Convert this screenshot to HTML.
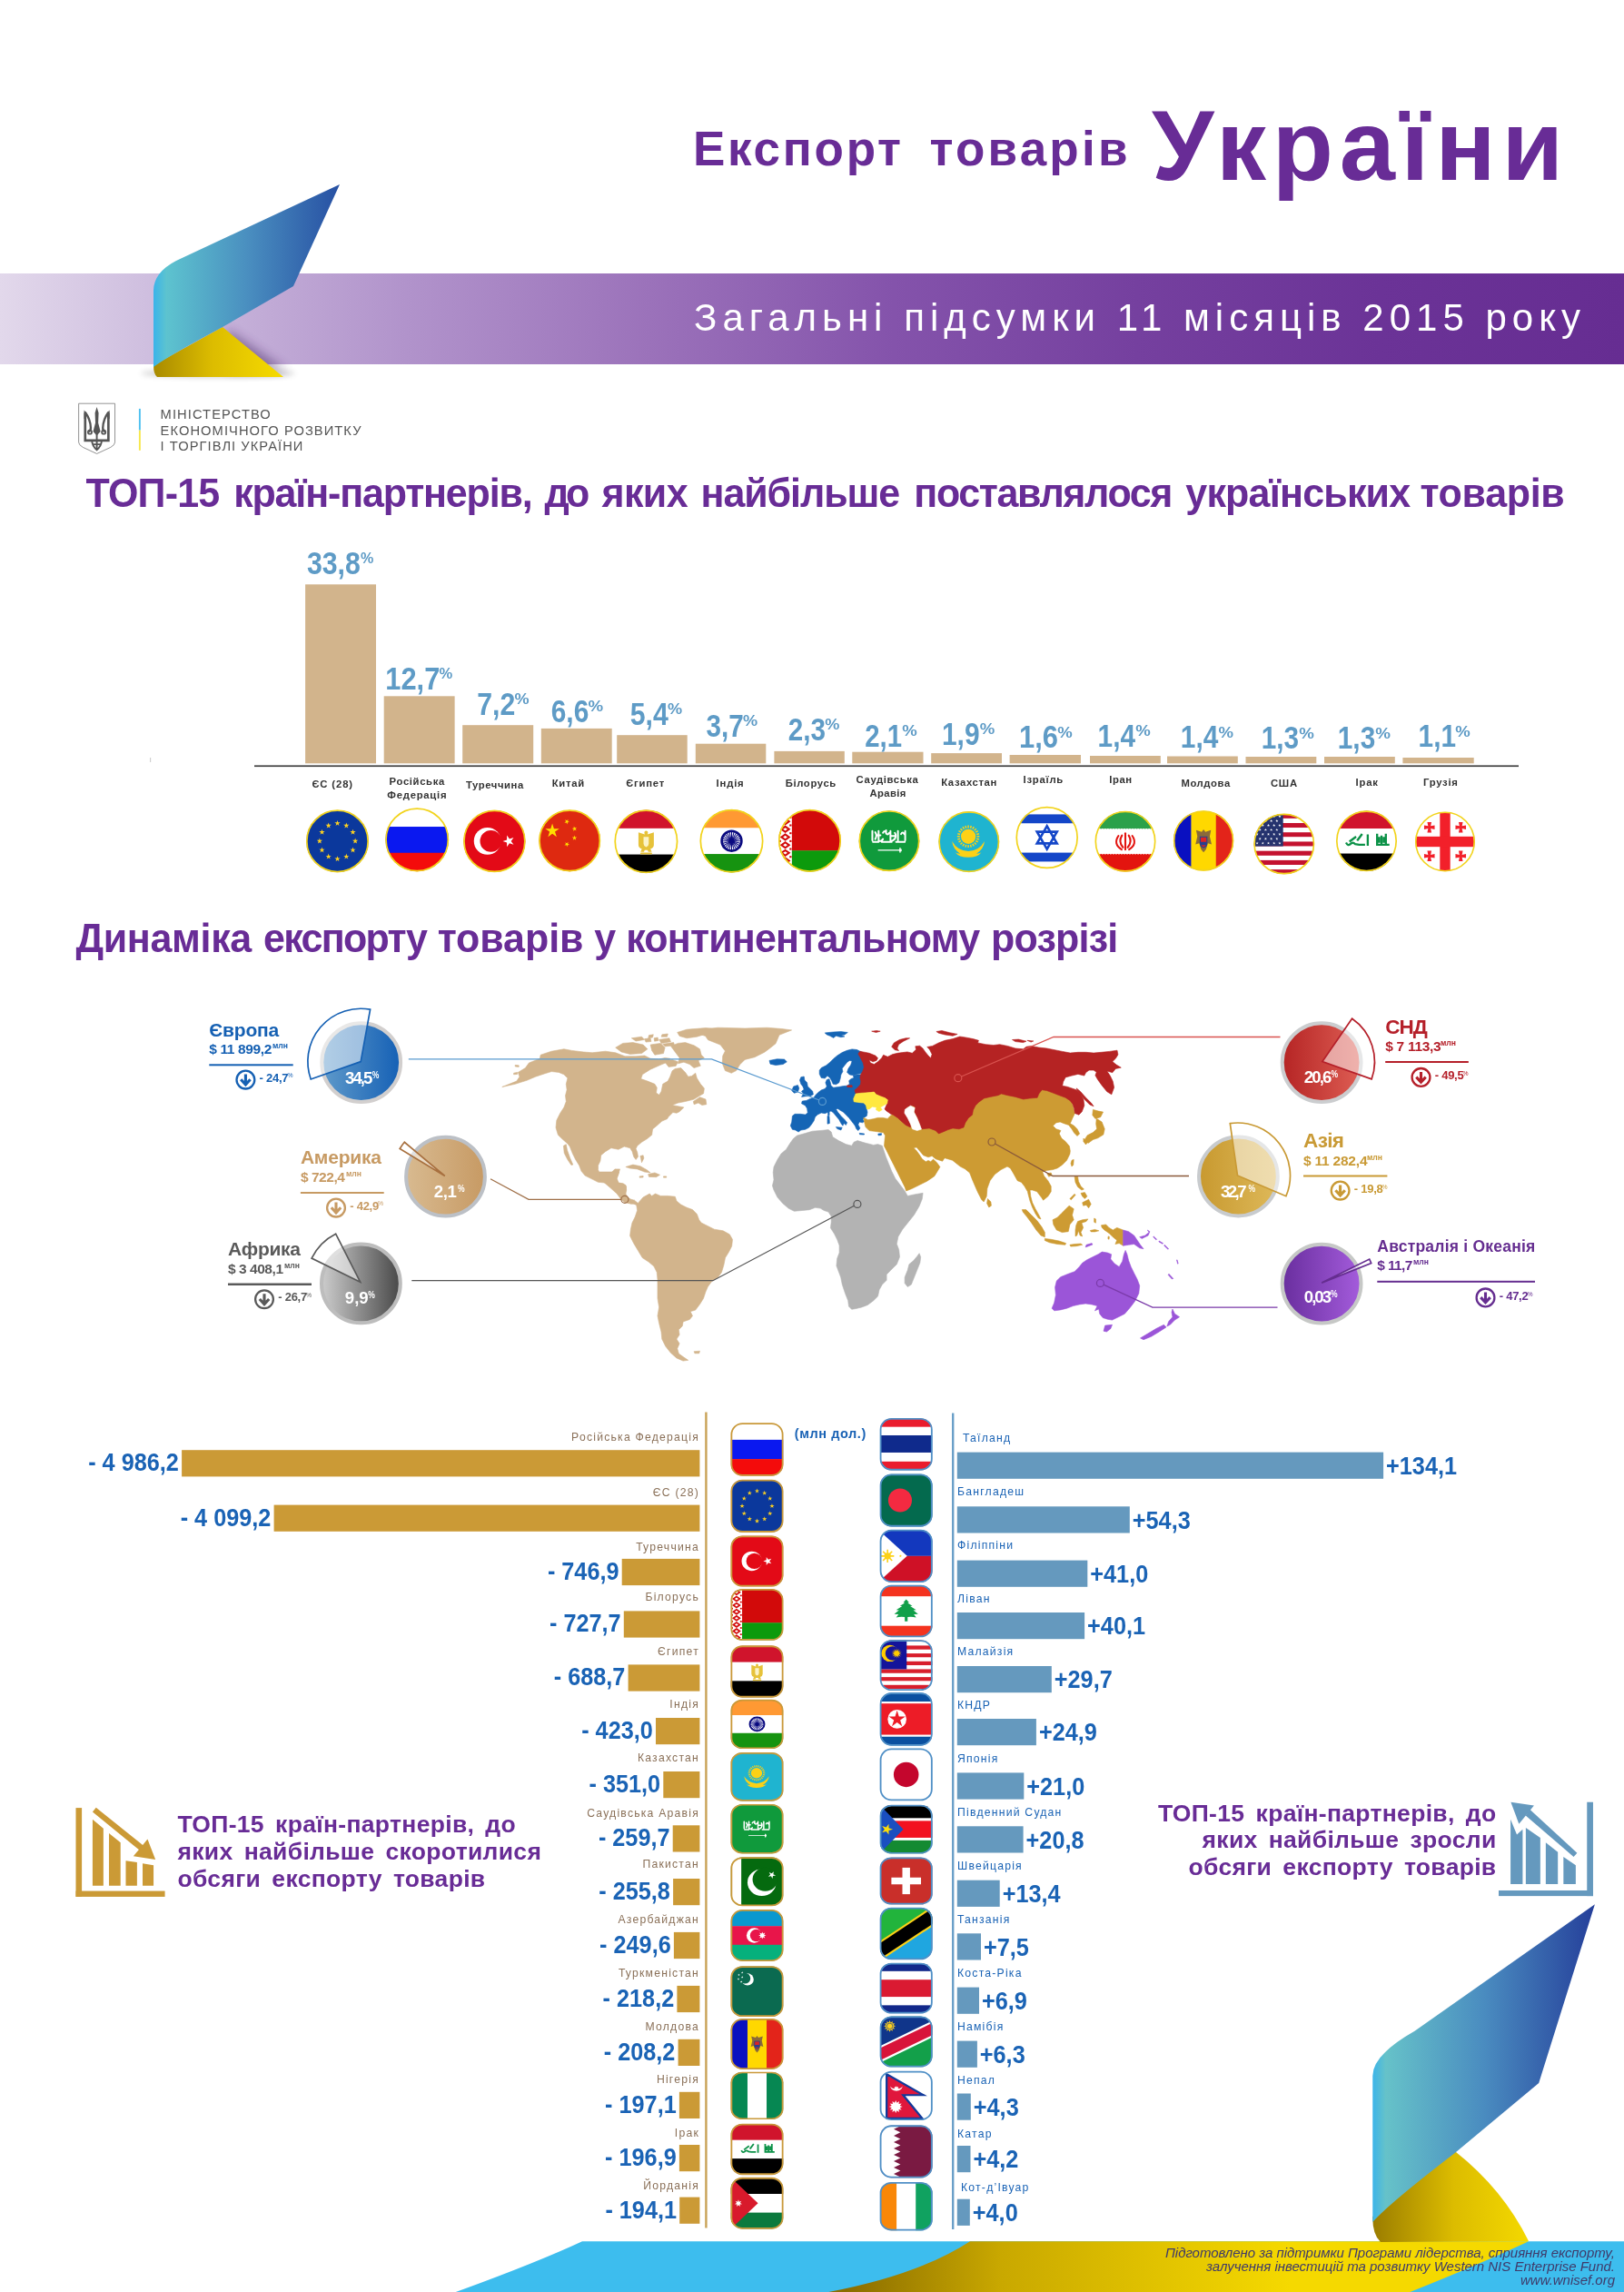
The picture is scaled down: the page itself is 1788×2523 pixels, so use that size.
<!DOCTYPE html>
<html lang="uk"><head><meta charset="utf-8"><title>Експорт товарів України</title>
<style>
html,body{margin:0;padding:0;background:#fff}
#page{position:relative;width:1788px;height:2523px;overflow:hidden;background:#fff}
svg{position:absolute;left:0;top:0;font-family:"Liberation Sans",sans-serif;will-change:transform}
text{white-space:pre}
</style></head><body><div id="page">
<svg width="1788" height="2523" viewBox="0 0 1788 2523">
<defs>
<linearGradient id="gband" x1="0" x2="1" y1="0" y2="0">
<stop offset="0" stop-color="#e2d8eb"/><stop offset="0.1" stop-color="#cdbcde"/><stop offset="0.25" stop-color="#b193cb"/><stop offset="0.4" stop-color="#9b72ba"/><stop offset="0.55" stop-color="#8453ab"/><stop offset="0.7" stop-color="#75409f"/><stop offset="0.85" stop-color="#6b3397"/><stop offset="1" stop-color="#662d92"/></linearGradient>
<linearGradient id="grib" x1="0" x2="1" y1="0" y2="0">
<stop offset="0" stop-color="#3ab4ea"/><stop offset="0.07" stop-color="#5dc3cf"/><stop offset="0.5" stop-color="#4a8fc0"/><stop offset="1" stop-color="#2750a3"/></linearGradient>
<linearGradient id="gyel" x1="0" x2="1" y1="0" y2="0">
<stop offset="0" stop-color="#a88a00"/><stop offset="0.45" stop-color="#dcbc00"/><stop offset="1" stop-color="#f6db00"/></linearGradient>
<radialGradient id="gshadow" cx="0.5" cy="1" r="0.5" gradientTransform="translate(0,0.9) scale(1,0.22) translate(0,-1)"><stop offset="0" stop-color="#000" stop-opacity="0.25"/><stop offset="1" stop-color="#000" stop-opacity="0"/></radialGradient>

<filter id="blur6" x="-50%" y="-50%" width="200%" height="200%"><feGaussianBlur stdDeviation="6"/></filter><filter id="blur3" x="-50%" y="-100%" width="200%" height="300%"><feGaussianBlur stdDeviation="3"/></filter>
<g id="f-ru"><rect x="0" y="0.00" width="60" height="20.30" fill="#fff"/><rect x="0" y="20.00" width="60" height="20.30" fill="#0a18f0"/><rect x="0" y="40.00" width="60" height="20.30" fill="#f40b0b"/></g>
<g id="f-eu"><rect width="60" height="60" fill="#0b389c"/><polygon points="30.00,9.90 30.65,11.90 32.76,11.90 31.05,13.14 31.70,15.15 30.00,13.91 28.30,15.15 28.95,13.14 27.24,11.90 29.35,11.90" fill="#ffd21f"/><polygon points="38.60,12.20 39.25,14.21 41.36,14.21 39.65,15.45 40.30,17.45 38.60,16.21 36.90,17.45 37.55,15.45 35.84,14.21 37.95,14.21" fill="#ffd21f"/><polygon points="44.90,18.50 45.55,20.50 47.65,20.50 45.95,21.74 46.60,23.75 44.90,22.51 43.19,23.75 43.84,21.74 42.14,20.50 44.24,20.50" fill="#ffd21f"/><polygon points="47.20,27.10 47.85,29.10 49.96,29.10 48.25,30.34 48.90,32.35 47.20,31.11 45.50,32.35 46.15,30.34 44.44,29.10 46.55,29.10" fill="#ffd21f"/><polygon points="44.90,35.70 45.55,37.70 47.65,37.70 45.95,38.94 46.60,40.95 44.90,39.71 43.19,40.95 43.84,38.94 42.14,37.70 44.24,37.70" fill="#ffd21f"/><polygon points="38.60,42.00 39.25,44.00 41.36,44.00 39.65,45.24 40.30,47.24 38.60,46.00 36.90,47.24 37.55,45.24 35.84,44.00 37.95,44.00" fill="#ffd21f"/><polygon points="30.00,44.30 30.65,46.30 32.76,46.30 31.05,47.54 31.70,49.55 30.00,48.31 28.30,49.55 28.95,47.54 27.24,46.30 29.35,46.30" fill="#ffd21f"/><polygon points="21.40,42.00 22.05,44.00 24.16,44.00 22.45,45.24 23.10,47.24 21.40,46.00 19.70,47.24 20.35,45.24 18.64,44.00 20.75,44.00" fill="#ffd21f"/><polygon points="15.10,35.70 15.76,37.70 17.86,37.70 16.16,38.94 16.81,40.95 15.10,39.71 13.40,40.95 14.05,38.94 12.35,37.70 14.45,37.70" fill="#ffd21f"/><polygon points="12.80,27.10 13.45,29.10 15.56,29.10 13.85,30.34 14.50,32.35 12.80,31.11 11.10,32.35 11.75,30.34 10.04,29.10 12.15,29.10" fill="#ffd21f"/><polygon points="15.10,18.50 15.76,20.50 17.86,20.50 16.16,21.74 16.81,23.75 15.10,22.51 13.40,23.75 14.05,21.74 12.35,20.50 14.45,20.50" fill="#ffd21f"/><polygon points="21.40,12.20 22.05,14.21 24.16,14.21 22.45,15.45 23.10,17.45 21.40,16.21 19.70,17.45 20.35,15.45 18.64,14.21 20.75,14.21" fill="#ffd21f"/></g>
<g id="f-tr"><rect width="60" height="60" fill="#e30a17"/><circle cx="24.5" cy="30" r="10.6" fill="#fff"/><circle cx="27.2" cy="30" r="8.5" fill="#e30a17"/><polygon points="39.75,34.47 39.75,31.06 36.50,30.00 39.75,28.94 39.75,25.53 41.75,28.29 45.00,27.24 43.00,30.00 45.00,32.76 41.75,31.71" fill="#fff"/></g>
<g id="f-cn"><rect width="60" height="60" fill="#de2910"/><polygon points="16.30,16.50 17.60,20.51 21.82,20.51 18.41,22.98 19.71,26.99 16.30,24.52 12.89,26.99 14.19,22.98 10.78,20.51 15.00,20.51" fill="#ffde00"/><polygon points="28.85,13.18 28.53,14.67 29.85,15.44 28.34,15.60 28.02,17.09 27.40,15.69 25.88,15.85 27.02,14.83 26.39,13.44 27.72,14.20" fill="#ffde00"/><polygon points="35.62,19.55 34.60,20.68 35.36,22.01 33.97,21.38 32.95,22.52 33.11,21.00 31.71,20.38 33.20,20.06 33.36,18.55 34.13,19.87" fill="#ffde00"/><polygon points="33.80,25.70 34.27,27.15 35.80,27.15 34.56,28.05 35.03,29.50 33.80,28.60 32.57,29.50 33.04,28.05 31.80,27.15 33.33,27.15" fill="#ffde00"/><polygon points="28.85,30.98 28.53,32.47 29.85,33.24 28.34,33.40 28.02,34.89 27.40,33.49 25.88,33.65 27.02,32.63 26.39,31.24 27.72,32.00" fill="#ffde00"/></g>
<g id="f-eg"><rect x="0" y="0.00" width="60" height="20.30" fill="#d0142c"/><rect x="0" y="20.00" width="60" height="20.30" fill="#fff"/><rect x="0" y="40.00" width="60" height="20.30" fill="#000"/><g fill="#e6c23a"><path d="M30,21.800 q1.400,0 1.400,1.500 l-0.300,1.300 l4.800,-1.500 v9.500 q0,2.300 -2.600,3.200 l1,2.300 h-2.600 l-0.600,-1.400 h-2.200 l-0.600,1.400 h-2.600 l1,-2.300 q-2.600,-0.900 -2.600,-3.200 v-9.500 l4.800,1.500 l-0.300,-1.300 q0,-1.500 1.400,-1.500 z"/><rect x="25.500" y="38.600" width="9" height="1.300" rx="0.500"/></g><path d="M28,26.500 h4 v5.200 q0,1.900 -2,2.600 q-2,-0.700 -2,-2.600 z" fill="#fbf3c8"/></g>
<g id="f-in"><rect x="0" y="0.00" width="60" height="20.30" fill="#ff9933"/><rect x="0" y="20.00" width="60" height="20.30" fill="#fff"/><rect x="0" y="40.00" width="60" height="20.30" fill="#169310"/><circle cx="30" cy="30" r="7.6" fill="#fff" stroke="#0a0a80" stroke-width="1.8"/><circle cx="30" cy="30" r="2.2" fill="#0a0a80"/><line x1="22.60" y1="30.00" x2="37.40" y2="30.00" stroke="#0a0a80" stroke-width="0.7"/><line x1="22.85" y1="28.08" x2="37.15" y2="31.92" stroke="#0a0a80" stroke-width="0.7"/><line x1="23.59" y1="26.30" x2="36.41" y2="33.70" stroke="#0a0a80" stroke-width="0.7"/><line x1="24.77" y1="24.77" x2="35.23" y2="35.23" stroke="#0a0a80" stroke-width="0.7"/><line x1="26.30" y1="23.59" x2="33.70" y2="36.41" stroke="#0a0a80" stroke-width="0.7"/><line x1="28.08" y1="22.85" x2="31.92" y2="37.15" stroke="#0a0a80" stroke-width="0.7"/><line x1="30.00" y1="22.60" x2="30.00" y2="37.40" stroke="#0a0a80" stroke-width="0.7"/><line x1="31.92" y1="22.85" x2="28.08" y2="37.15" stroke="#0a0a80" stroke-width="0.7"/><line x1="33.70" y1="23.59" x2="26.30" y2="36.41" stroke="#0a0a80" stroke-width="0.7"/><line x1="35.23" y1="24.77" x2="24.77" y2="35.23" stroke="#0a0a80" stroke-width="0.7"/><line x1="36.41" y1="26.30" x2="23.59" y2="33.70" stroke="#0a0a80" stroke-width="0.7"/><line x1="37.15" y1="28.08" x2="22.85" y2="31.92" stroke="#0a0a80" stroke-width="0.7"/></g>
<g id="f-by"><rect x="0" y="0.00" width="60" height="39.80" fill="#d20a0a"/><rect x="0" y="39.50" width="60" height="20.80" fill="#0c9a0c"/><rect x="0" y="0" width="12.8" height="60" fill="#fff"/><path d="M6.4,0.10 l5.2,3.7 l-5.2,3.7 l-5.2,-3.7 z" fill="#d20a0a"/><path d="M6.4,2.30 l2.1,1.5 l-2.1,1.5 l-2.1,-1.5 z" fill="#fff"/><rect x="0.3" y="6.70" width="2" height="1.8" fill="#d20a0a"/><rect x="10.5" y="6.70" width="2" height="1.8" fill="#d20a0a"/><path d="M6.4,7.70 l5.2,3.7 l-5.2,3.7 l-5.2,-3.7 z" fill="#d20a0a"/><path d="M6.4,9.90 l2.1,1.5 l-2.1,1.5 l-2.1,-1.5 z" fill="#fff"/><rect x="0.3" y="14.30" width="2" height="1.8" fill="#d20a0a"/><rect x="10.5" y="14.30" width="2" height="1.8" fill="#d20a0a"/><path d="M6.4,15.30 l5.2,3.7 l-5.2,3.7 l-5.2,-3.7 z" fill="#d20a0a"/><path d="M6.4,17.50 l2.1,1.5 l-2.1,1.5 l-2.1,-1.5 z" fill="#fff"/><rect x="0.3" y="21.90" width="2" height="1.8" fill="#d20a0a"/><rect x="10.5" y="21.90" width="2" height="1.8" fill="#d20a0a"/><path d="M6.4,22.90 l5.2,3.7 l-5.2,3.7 l-5.2,-3.7 z" fill="#d20a0a"/><path d="M6.4,25.10 l2.1,1.5 l-2.1,1.5 l-2.1,-1.5 z" fill="#fff"/><rect x="0.3" y="29.50" width="2" height="1.8" fill="#d20a0a"/><rect x="10.5" y="29.50" width="2" height="1.8" fill="#d20a0a"/><path d="M6.4,30.50 l5.2,3.7 l-5.2,3.7 l-5.2,-3.7 z" fill="#d20a0a"/><path d="M6.4,32.70 l2.1,1.5 l-2.1,1.5 l-2.1,-1.5 z" fill="#fff"/><rect x="0.3" y="37.10" width="2" height="1.8" fill="#d20a0a"/><rect x="10.5" y="37.10" width="2" height="1.8" fill="#d20a0a"/><path d="M6.4,38.10 l5.2,3.7 l-5.2,3.7 l-5.2,-3.7 z" fill="#d20a0a"/><path d="M6.4,40.30 l2.1,1.5 l-2.1,1.5 l-2.1,-1.5 z" fill="#fff"/><rect x="0.3" y="44.70" width="2" height="1.8" fill="#d20a0a"/><rect x="10.5" y="44.70" width="2" height="1.8" fill="#d20a0a"/><path d="M6.4,45.70 l5.2,3.7 l-5.2,3.7 l-5.2,-3.7 z" fill="#d20a0a"/><path d="M6.4,47.90 l2.1,1.5 l-2.1,1.5 l-2.1,-1.5 z" fill="#fff"/><rect x="0.3" y="52.30" width="2" height="1.8" fill="#d20a0a"/><rect x="10.5" y="52.30" width="2" height="1.8" fill="#d20a0a"/><path d="M6.4,53.30 l5.2,3.7 l-5.2,3.7 l-5.2,-3.7 z" fill="#d20a0a"/><path d="M6.4,55.50 l2.1,1.5 l-2.1,1.5 l-2.1,-1.5 z" fill="#fff"/><rect x="0.3" y="59.90" width="2" height="1.8" fill="#d20a0a"/><rect x="10.5" y="59.90" width="2" height="1.8" fill="#d20a0a"/></g>
<g id="f-sa"><rect width="60" height="60" fill="#109a3c"/><g fill="none" stroke="#fff" stroke-width="1.45" stroke-linecap="round"><path d="M16.500,22 v7.500 M18.800,23 q1.800,2.500 0,5.500 M21.500,22 v7.500 q2,1.500 3.500,-1 M25,23.500 q1.500,-2.500 2.500,0 t2.500,0 M27.500,21.500 v2.500 M31,22 v7.500 q1.500,1.200 3,-0.800 M34.500,23.500 q1.500,2 0,5 M37,22 v7.500 M39.500,24.500 q1.200,-2.500 2.500,0 M42.800,22 v7.500 M17,30.800 h4.500 M24,30.800 h8 M35.500,30.800 h7 M20,25.500 h3 M32,26 h3"/></g><path d="M21,37 h16.500 l2.500,-0.600 v2 l-2.500,-0.600 h-16.500 z" fill="#fff"/><path d="M38.700,35.500 v3.800" stroke="#fff" stroke-width="1.100"/></g>
<g id="f-kz"><rect width="60" height="60" fill="#1fb4d0"/><line x1="36.30" y1="25.80" x2="38.40" y2="25.80" stroke="#fcd116" stroke-width="1.1"/><line x1="36.07" y1="27.56" x2="38.10" y2="28.10" stroke="#fcd116" stroke-width="1.1"/><line x1="35.39" y1="29.20" x2="37.21" y2="30.25" stroke="#fcd116" stroke-width="1.1"/><line x1="34.31" y1="30.61" x2="35.79" y2="32.09" stroke="#fcd116" stroke-width="1.1"/><line x1="32.90" y1="31.69" x2="33.95" y2="33.51" stroke="#fcd116" stroke-width="1.1"/><line x1="31.26" y1="32.37" x2="31.80" y2="34.40" stroke="#fcd116" stroke-width="1.1"/><line x1="29.50" y1="32.60" x2="29.50" y2="34.70" stroke="#fcd116" stroke-width="1.1"/><line x1="27.74" y1="32.37" x2="27.20" y2="34.40" stroke="#fcd116" stroke-width="1.1"/><line x1="26.10" y1="31.69" x2="25.05" y2="33.51" stroke="#fcd116" stroke-width="1.1"/><line x1="24.69" y1="30.61" x2="23.21" y2="32.09" stroke="#fcd116" stroke-width="1.1"/><line x1="23.61" y1="29.20" x2="21.79" y2="30.25" stroke="#fcd116" stroke-width="1.1"/><line x1="22.93" y1="27.56" x2="20.90" y2="28.10" stroke="#fcd116" stroke-width="1.1"/><line x1="22.70" y1="25.80" x2="20.60" y2="25.80" stroke="#fcd116" stroke-width="1.1"/><line x1="22.93" y1="24.04" x2="20.90" y2="23.50" stroke="#fcd116" stroke-width="1.1"/><line x1="23.61" y1="22.40" x2="21.79" y2="21.35" stroke="#fcd116" stroke-width="1.1"/><line x1="24.69" y1="20.99" x2="23.21" y2="19.51" stroke="#fcd116" stroke-width="1.1"/><line x1="26.10" y1="19.91" x2="25.05" y2="18.09" stroke="#fcd116" stroke-width="1.1"/><line x1="27.74" y1="19.23" x2="27.20" y2="17.20" stroke="#fcd116" stroke-width="1.1"/><line x1="29.50" y1="19.00" x2="29.50" y2="16.90" stroke="#fcd116" stroke-width="1.1"/><line x1="31.26" y1="19.23" x2="31.80" y2="17.20" stroke="#fcd116" stroke-width="1.1"/><line x1="32.90" y1="19.91" x2="33.95" y2="18.09" stroke="#fcd116" stroke-width="1.1"/><line x1="34.31" y1="20.99" x2="35.79" y2="19.51" stroke="#fcd116" stroke-width="1.1"/><line x1="35.39" y1="22.40" x2="37.21" y2="21.35" stroke="#fcd116" stroke-width="1.1"/><line x1="36.07" y1="24.04" x2="38.10" y2="23.50" stroke="#fcd116" stroke-width="1.1"/><circle cx="29.5" cy="25.800" r="5.900" fill="#fcd116"/><path d="M16.500,29.500 q4,7.500 13,8 q9,-0.500 13,-8 q-0.500,6 -6.500,10 q3,0 4,-1 q-3,4 -10.500,4 q-7.500,0 -10.500,-4 q1,1 4,1 q-6,-4 -6.500,-10 z" fill="#fcd116"/></g>
<g id="f-il"><rect width="60" height="60" fill="#fff"/><rect y="11.800" width="60" height="7" fill="#1446c8"/><rect y="41.800" width="60" height="7" fill="#1446c8"/><g fill="none" stroke="#1446c8" stroke-width="1.900"><polygon points="30,21 37.8,34.5 22.2,34.5"/><polygon points="30,39 37.8,25.5 22.2,25.5"/></g></g>
<g id="f-ir"><rect x="0" y="0.00" width="60" height="20.30" fill="#2ba14a"/><rect x="0" y="20.00" width="60" height="20.30" fill="#fff"/><rect x="0" y="40.00" width="60" height="20.30" fill="#e3140f"/><path d="M0,20.3 h60 M0,39.7 h60" stroke="#fff" stroke-width="1.4" stroke-dasharray="1.3 0.9" opacity="0.85"/><g fill="none" stroke="#e3140f" stroke-width="1.5" stroke-linecap="round"><path d="M30,23.5 v13"/><path d="M27.3,25.2 q-3.2,5 0.8,9.6"/><path d="M32.7,25.2 q3.2,5 -0.8,9.6"/><path d="M24.5,25.5 q-4.5,6.5 2.5,11"/><path d="M35.5,25.5 q4.5,6.5 -2.5,11"/></g></g>
<g id="f-md"><rect y="0" x="0.00" height="60" width="20.30" fill="#0a10c0"/><rect y="0" x="20.00" height="60" width="20.30" fill="#ffd800"/><rect y="0" x="40.00" height="60" width="20.30" fill="#e3241a"/><path d="M30,21 l1.5,2 l4.5,-1.5 l-1,5 l1.5,6.5 l-3,-1 l-1.5,5 l-2,2.5 l-2,-2.5 l-1.500,-5 l-3,1 l1.5,-6.5 l-1,-5 l4.5,1.5 z" fill="#8a6a3a"/><path d="M27.300,27 h5.400 v5 q0,2.500 -2.700,3.500 q-2.700,-1 -2.700,-3.500 z" fill="#d22" stroke="#25408f" stroke-width="0.8"/><rect x="27.7" y="31" width="4.6" height="2.600" fill="#25408f"/></g>
<g id="f-us"><rect x="0" y="0.00" width="60" height="4.82" fill="#c4122f"/><rect x="0" y="4.62" width="60" height="4.82" fill="#fff"/><rect x="0" y="9.23" width="60" height="4.82" fill="#c4122f"/><rect x="0" y="13.85" width="60" height="4.82" fill="#fff"/><rect x="0" y="18.46" width="60" height="4.82" fill="#c4122f"/><rect x="0" y="23.08" width="60" height="4.82" fill="#fff"/><rect x="0" y="27.69" width="60" height="4.82" fill="#c4122f"/><rect x="0" y="32.31" width="60" height="4.82" fill="#fff"/><rect x="0" y="36.92" width="60" height="4.82" fill="#c4122f"/><rect x="0" y="41.54" width="60" height="4.82" fill="#fff"/><rect x="0" y="46.15" width="60" height="4.82" fill="#c4122f"/><rect x="0" y="50.77" width="60" height="4.82" fill="#fff"/><rect x="0" y="55.38" width="60" height="4.82" fill="#c4122f"/><rect x="0" y="0" width="29" height="32.31" fill="#25336e"/><polygon points="3.20,1.10 3.54,2.14 4.63,2.14 3.74,2.78 4.08,3.81 3.20,3.17 2.32,3.81 2.66,2.78 1.77,2.14 2.86,2.14" fill="#fff"/><polygon points="8.80,1.10 9.14,2.14 10.23,2.14 9.34,2.78 9.68,3.81 8.80,3.17 7.92,3.81 8.26,2.78 7.37,2.14 8.46,2.14" fill="#fff"/><polygon points="14.40,1.10 14.74,2.14 15.83,2.14 14.94,2.78 15.28,3.81 14.40,3.17 13.52,3.81 13.86,2.78 12.97,2.14 14.06,2.14" fill="#fff"/><polygon points="20.00,1.10 20.34,2.14 21.43,2.14 20.54,2.78 20.88,3.81 20.00,3.17 19.12,3.81 19.46,2.78 18.57,2.14 19.66,2.14" fill="#fff"/><polygon points="25.60,1.10 25.94,2.14 27.03,2.14 26.14,2.78 26.48,3.81 25.60,3.17 24.72,3.81 25.06,2.78 24.17,2.14 25.26,2.14" fill="#fff"/><polygon points="6.00,5.55 6.34,6.59 7.43,6.59 6.54,7.23 6.88,8.26 6.00,7.62 5.12,8.26 5.46,7.23 4.57,6.59 5.66,6.59" fill="#fff"/><polygon points="11.60,5.55 11.94,6.59 13.03,6.59 12.14,7.23 12.48,8.26 11.60,7.62 10.72,8.26 11.06,7.23 10.17,6.59 11.26,6.59" fill="#fff"/><polygon points="17.20,5.55 17.54,6.59 18.63,6.59 17.74,7.23 18.08,8.26 17.20,7.62 16.32,8.26 16.66,7.23 15.77,6.59 16.86,6.59" fill="#fff"/><polygon points="22.80,5.55 23.14,6.59 24.23,6.59 23.34,7.23 23.68,8.26 22.80,7.62 21.92,8.26 22.26,7.23 21.37,6.59 22.46,6.59" fill="#fff"/><polygon points="3.20,10.00 3.54,11.04 4.63,11.04 3.74,11.68 4.08,12.71 3.20,12.07 2.32,12.71 2.66,11.68 1.77,11.04 2.86,11.04" fill="#fff"/><polygon points="8.80,10.00 9.14,11.04 10.23,11.04 9.34,11.68 9.68,12.71 8.80,12.07 7.92,12.71 8.26,11.68 7.37,11.04 8.46,11.04" fill="#fff"/><polygon points="14.40,10.00 14.74,11.04 15.83,11.04 14.94,11.68 15.28,12.71 14.40,12.07 13.52,12.71 13.86,11.68 12.97,11.04 14.06,11.04" fill="#fff"/><polygon points="20.00,10.00 20.34,11.04 21.43,11.04 20.54,11.68 20.88,12.71 20.00,12.07 19.12,12.71 19.46,11.68 18.57,11.04 19.66,11.04" fill="#fff"/><polygon points="25.60,10.00 25.94,11.04 27.03,11.04 26.14,11.68 26.48,12.71 25.60,12.07 24.72,12.71 25.06,11.68 24.17,11.04 25.26,11.04" fill="#fff"/><polygon points="6.00,14.45 6.34,15.49 7.43,15.49 6.54,16.13 6.88,17.16 6.00,16.52 5.12,17.16 5.46,16.13 4.57,15.49 5.66,15.49" fill="#fff"/><polygon points="11.60,14.45 11.94,15.49 13.03,15.49 12.14,16.13 12.48,17.16 11.60,16.52 10.72,17.16 11.06,16.13 10.17,15.49 11.26,15.49" fill="#fff"/><polygon points="17.20,14.45 17.54,15.49 18.63,15.49 17.74,16.13 18.08,17.16 17.20,16.52 16.32,17.16 16.66,16.13 15.77,15.49 16.86,15.49" fill="#fff"/><polygon points="22.80,14.45 23.14,15.49 24.23,15.49 23.34,16.13 23.68,17.16 22.80,16.52 21.92,17.16 22.26,16.13 21.37,15.49 22.46,15.49" fill="#fff"/><polygon points="3.20,18.90 3.54,19.94 4.63,19.94 3.74,20.58 4.08,21.61 3.20,20.97 2.32,21.61 2.66,20.58 1.77,19.94 2.86,19.94" fill="#fff"/><polygon points="8.80,18.90 9.14,19.94 10.23,19.94 9.34,20.58 9.68,21.61 8.80,20.97 7.92,21.61 8.26,20.58 7.37,19.94 8.46,19.94" fill="#fff"/><polygon points="14.40,18.90 14.74,19.94 15.83,19.94 14.94,20.58 15.28,21.61 14.40,20.97 13.52,21.61 13.86,20.58 12.97,19.94 14.06,19.94" fill="#fff"/><polygon points="20.00,18.90 20.34,19.94 21.43,19.94 20.54,20.58 20.88,21.61 20.00,20.97 19.12,21.61 19.46,20.58 18.57,19.94 19.66,19.94" fill="#fff"/><polygon points="25.60,18.90 25.94,19.94 27.03,19.94 26.14,20.58 26.48,21.61 25.60,20.97 24.72,21.61 25.06,20.58 24.17,19.94 25.26,19.94" fill="#fff"/><polygon points="6.00,23.35 6.34,24.39 7.43,24.39 6.54,25.03 6.88,26.06 6.00,25.42 5.12,26.06 5.46,25.03 4.57,24.39 5.66,24.39" fill="#fff"/><polygon points="11.60,23.35 11.94,24.39 13.03,24.39 12.14,25.03 12.48,26.06 11.60,25.42 10.72,26.06 11.06,25.03 10.17,24.39 11.26,24.39" fill="#fff"/><polygon points="17.20,23.35 17.54,24.39 18.63,24.39 17.74,25.03 18.08,26.06 17.20,25.42 16.32,26.06 16.66,25.03 15.77,24.39 16.86,24.39" fill="#fff"/><polygon points="22.80,23.35 23.14,24.39 24.23,24.39 23.34,25.03 23.68,26.06 22.80,25.42 21.92,26.06 22.26,25.03 21.37,24.39 22.46,24.39" fill="#fff"/><polygon points="3.20,27.80 3.54,28.84 4.63,28.84 3.74,29.48 4.08,30.51 3.20,29.87 2.32,30.51 2.66,29.48 1.77,28.84 2.86,28.84" fill="#fff"/><polygon points="8.80,27.80 9.14,28.84 10.23,28.84 9.34,29.48 9.68,30.51 8.80,29.87 7.92,30.51 8.26,29.48 7.37,28.84 8.46,28.84" fill="#fff"/><polygon points="14.40,27.80 14.74,28.84 15.83,28.84 14.94,29.48 15.28,30.51 14.40,29.87 13.52,30.51 13.86,29.48 12.97,28.84 14.06,28.84" fill="#fff"/><polygon points="20.00,27.80 20.34,28.84 21.43,28.84 20.54,29.48 20.88,30.51 20.00,29.87 19.12,30.51 19.46,29.48 18.57,28.84 19.66,28.84" fill="#fff"/><polygon points="25.60,27.80 25.94,28.84 27.03,28.84 26.14,29.48 26.48,30.51 25.60,29.87 24.72,30.51 25.06,29.48 24.17,28.84 25.26,28.84" fill="#fff"/></g>
<g id="f-iq"><rect x="0" y="0.00" width="60" height="20.30" fill="#d0142c"/><rect x="0" y="20.00" width="60" height="20.30" fill="#fff"/><rect x="0" y="40.00" width="60" height="20.30" fill="#000"/><g fill="none" stroke="#0c9248" stroke-width="1.7" stroke-linecap="square"><path d="M38.500,25 v8 M42,26.500 v6.500 M45.500,25 v8 M38.500,33 h9 M40.200,27.500 v3 M43.800,27.500 v3"/><path d="M31,25.5 v7.500 M26,25 l-3,4 M14,32 q1,2 3,0.500 q2,-2 4,0 l3,0.500 h4 M17,30 l4,-3"/></g></g>
<g id="f-ge"><rect width="60" height="60" fill="#fff"/><rect x="24.8" y="0" width="10.4" height="60" fill="#f2202a"/><rect x="0" y="24.8" width="60" height="10.4" fill="#f2202a"/><path d="M12.899999999999999,14.2 l-0.800,-4 h4.200 l-0.800,4 l4,-0.800 v4.200 l-4,-0.800 l0.800,4 h-4.200 l0.800,-4 l-4,0.800 v-4.200 z" fill="#f2202a"/><path d="M44.5,14.2 l-0.800,-4 h4.200 l-0.800,4 l4,-0.800 v4.200 l-4,-0.800 l0.800,4 h-4.200 l0.800,-4 l-4,0.800 v-4.200 z" fill="#f2202a"/><path d="M12.899999999999999,43.2 l-0.800,-4 h4.200 l-0.800,4 l4,-0.800 v4.200 l-4,-0.800 l0.800,4 h-4.200 l0.800,-4 l-4,0.800 v-4.200 z" fill="#f2202a"/><path d="M44.5,43.2 l-0.800,-4 h4.200 l-0.800,4 l4,-0.800 v4.200 l-4,-0.800 l0.800,4 h-4.200 l0.800,-4 l-4,0.800 v-4.200 z" fill="#f2202a"/></g>
<g id="f-pk"><rect width="60" height="60" fill="#056a0f"/><rect width="13.500" height="60" fill="#fff"/><circle cx="35" cy="31" r="15" fill="#fff"/><circle cx="38.500" cy="27.500" r="13.200" fill="#056a0f"/><polygon points="47.47,18.79 46.94,21.80 49.64,23.23 46.61,23.65 46.08,26.66 44.75,23.92 41.73,24.34 43.92,22.22 42.58,19.48 45.28,20.91" fill="#fff"/></g>
<g id="f-az"><rect x="0" y="0.00" width="60" height="20.30" fill="#0a98cf"/><rect x="0" y="20.00" width="60" height="20.30" fill="#e8154a"/><rect x="0" y="40.00" width="60" height="20.30" fill="#06b07c"/><circle cx="27" cy="30" r="8" fill="#fff"/><circle cx="29.200" cy="30" r="6.500" fill="#e8154a"/><polygon points="35.50,26.00 36.27,28.15 38.33,27.17 37.35,29.23 39.50,30.00 37.35,30.77 38.33,32.83 36.27,31.85 35.50,34.00 34.73,31.85 32.67,32.83 33.65,30.77 31.50,30.00 33.65,29.23 32.67,27.17 34.73,28.15" fill="#fff"/></g>
<g id="f-tm"><rect width="60" height="60" fill="#0b6a50"/><circle cx="20" cy="17" r="6.500" fill="#fff"/><circle cx="17.300" cy="15.800" r="5.800" fill="#0b6a50"/><polygon points="11.00,10.70 11.29,11.60 12.24,11.60 11.47,12.15 11.76,13.05 11.00,12.50 10.24,13.05 10.53,12.15 9.76,11.60 10.71,11.60" fill="#fff"/><polygon points="14.50,8.20 14.79,9.10 15.74,9.10 14.97,9.65 15.26,10.55 14.50,10.00 13.74,10.55 14.03,9.65 13.26,9.10 14.21,9.10" fill="#fff"/><polygon points="10.50,15.20 10.79,16.10 11.74,16.10 10.97,16.65 11.26,17.55 10.50,17.00 9.74,17.55 10.03,16.65 9.26,16.10 10.21,16.10" fill="#fff"/><polygon points="14.50,13.20 14.79,14.10 15.74,14.10 14.97,14.65 15.26,15.55 14.50,15.00 13.74,15.55 14.03,14.65 13.26,14.10 14.21,14.10" fill="#fff"/><polygon points="13.50,18.20 13.79,19.10 14.74,19.10 13.97,19.65 14.26,20.55 13.50,20.00 12.74,20.55 13.03,19.65 12.26,19.10 13.21,19.10" fill="#fff"/></g>
<g id="f-ng"><rect y="0" x="0.00" height="60" width="20.30" fill="#068752"/><rect y="0" x="20.00" height="60" width="20.30" fill="#fff"/><rect y="0" x="40.00" height="60" width="20.30" fill="#068752"/></g>
<g id="f-jo"><rect x="0" y="0.00" width="60" height="20.30" fill="#000"/><rect x="0" y="20.00" width="60" height="20.30" fill="#fff"/><rect x="0" y="40.00" width="60" height="20.30" fill="#0b7a3e"/><polygon points="0,0 31,30 0,60" fill="#d81a2c"/><polygon points="10.50,26.00 11.28,28.38 13.63,27.51 12.25,29.60 14.40,30.89 11.91,31.12 12.24,33.60 10.50,31.80 8.76,33.60 9.09,31.12 6.60,30.89 8.75,29.60 7.37,27.51 9.72,28.38" fill="#fff"/></g>
<g id="f-th"><rect x="0" y="0.00" width="60" height="10.10" fill="#ea1c2d"/><rect x="0" y="9.80" width="60" height="10.10" fill="#fff"/><rect x="0" y="19.60" width="60" height="20.30" fill="#0f2a8c"/><rect x="0" y="39.60" width="60" height="10.70" fill="#fff"/><rect x="0" y="50.00" width="60" height="10.30" fill="#ea1c2d"/></g>
<g id="f-bd"><rect width="60" height="60" fill="#046a4e"/><circle cx="23.6" cy="30" r="12.4" fill="#f42a41"/></g>
<g id="f-ph"><rect width="60" height="30" fill="#1338be"/><rect y="30" width="60" height="30" fill="#cf1126"/><polygon points="0,2 31,30 0,58" fill="#fff"/><circle cx="10.500" cy="30" r="3.500" fill="#fcd116"/><line x1="13.50" y1="30.00" x2="17.30" y2="30.00" stroke="#fcd116" stroke-width="1.5"/><line x1="12.62" y1="32.12" x2="15.31" y2="34.81" stroke="#fcd116" stroke-width="1.5"/><line x1="10.50" y1="33.00" x2="10.50" y2="36.80" stroke="#fcd116" stroke-width="1.5"/><line x1="8.38" y1="32.12" x2="5.69" y2="34.81" stroke="#fcd116" stroke-width="1.5"/><line x1="7.50" y1="30.00" x2="3.70" y2="30.00" stroke="#fcd116" stroke-width="1.5"/><line x1="8.38" y1="27.88" x2="5.69" y2="25.19" stroke="#fcd116" stroke-width="1.5"/><line x1="10.50" y1="27.00" x2="10.50" y2="23.20" stroke="#fcd116" stroke-width="1.5"/><line x1="12.62" y1="27.88" x2="15.31" y2="25.19" stroke="#fcd116" stroke-width="1.5"/><polygon points="3.50,7.40 3.86,8.51 5.02,8.51 4.08,9.19 4.44,10.29 3.50,9.61 2.56,10.29 2.92,9.19 1.98,8.51 3.14,8.51" fill="#fcd116"/><polygon points="3.50,49.40 3.86,50.51 5.02,50.51 4.08,51.19 4.44,52.29 3.50,51.61 2.56,52.29 2.92,51.19 1.98,50.51 3.14,50.51" fill="#fcd116"/><polygon points="24.00,28.40 24.36,29.51 25.52,29.51 24.58,30.19 24.94,31.29 24.00,30.61 23.06,31.29 23.42,30.19 22.48,29.51 23.64,29.51" fill="#fcd116"/></g>
<g id="f-lb"><rect x="0" y="0.00" width="60" height="14.80" fill="#f4331f"/><rect x="0" y="14.50" width="60" height="31.30" fill="#fff"/><rect x="0" y="45.50" width="60" height="14.80" fill="#f4331f"/><path d="M30,17.5 l3,3.500 l-1.500,0.400 l5,3 l-2.300,0.300 l6.300,4 l-3,0.300 l5,4 l-4.500,0.300 l2.500,3.500 q-5,-1.500 -9,-0.500 v4.500 h-3 v-4.500 q-4,-1 -9,0.500 l2.500,-3.500 l-4.500,-0.300 l5,-4 l-3,-0.300 l6.300,-4 l-2.300,-0.300 l5,-3 l-1.500,-0.400 z" fill="#11a04a"/></g>
<g id="f-my"><rect x="0" y="0.00" width="60" height="4.49" fill="#d81e2c"/><rect x="0" y="4.29" width="60" height="4.49" fill="#fff"/><rect x="0" y="8.57" width="60" height="4.49" fill="#d81e2c"/><rect x="0" y="12.86" width="60" height="4.49" fill="#fff"/><rect x="0" y="17.14" width="60" height="4.49" fill="#d81e2c"/><rect x="0" y="21.43" width="60" height="4.49" fill="#fff"/><rect x="0" y="25.71" width="60" height="4.49" fill="#d81e2c"/><rect x="0" y="30.00" width="60" height="4.49" fill="#fff"/><rect x="0" y="34.29" width="60" height="4.49" fill="#d81e2c"/><rect x="0" y="38.57" width="60" height="4.49" fill="#fff"/><rect x="0" y="42.86" width="60" height="4.49" fill="#d81e2c"/><rect x="0" y="47.14" width="60" height="4.49" fill="#fff"/><rect x="0" y="51.43" width="60" height="4.49" fill="#d81e2c"/><rect x="0" y="55.71" width="60" height="4.49" fill="#fff"/><rect width="30.500" height="34.300" fill="#14149a"/><circle cx="13" cy="17" r="9" fill="#fc0"/><circle cx="15.800" cy="17" r="7.600" fill="#14149a"/><polygon points="20.00,11.50 20.55,14.59 22.39,12.04 21.54,15.06 24.30,13.57 22.23,15.93 25.36,15.78 22.48,17.00 25.36,18.22 22.23,18.07 24.30,20.43 21.54,18.94 22.39,21.96 20.55,19.41 20.00,22.50 19.45,19.41 17.61,21.96 18.46,18.94 15.70,20.43 17.77,18.07 14.64,18.22 17.52,17.00 14.64,15.78 17.77,15.93 15.70,13.57 18.46,15.06 17.61,12.04 19.45,14.59" fill="#fc0"/></g>
<g id="f-kp"><rect x="0" y="0.00" width="60" height="10.30" fill="#0b50a0"/><rect x="0" y="10.00" width="60" height="2.50" fill="#fff"/><rect x="0" y="12.20" width="60" height="35.90" fill="#ed1c27"/><rect x="0" y="47.80" width="60" height="2.50" fill="#fff"/><rect x="0" y="50.00" width="60" height="10.30" fill="#0b50a0"/><circle cx="19.500" cy="30" r="10.800" fill="#fff"/><polygon points="19.50,20.00 21.75,26.91 29.01,26.91 23.13,31.18 25.38,38.09 19.50,33.82 13.62,38.09 15.87,31.18 9.99,26.91 17.25,26.91" fill="#ed1c27"/></g>
<g id="f-jp"><rect width="60" height="60" fill="#fff"/><circle cx="30" cy="30" r="13.100" fill="#c4062d"/></g>
<g id="f-ss"><rect x="0" y="0.00" width="60" height="17.80" fill="#000"/><rect x="0" y="17.50" width="60" height="3.30" fill="#fff"/><rect x="0" y="20.50" width="60" height="19.30" fill="#f21120"/><rect x="0" y="39.50" width="60" height="3.30" fill="#fff"/><rect x="0" y="42.50" width="60" height="17.80" fill="#148a32"/><polygon points="0,0 27,30 0,60" fill="#1a4fc0"/><polygon points="11.75,24.01 11.75,28.59 16.10,30.00 11.75,31.41 11.75,35.99 9.06,32.29 4.70,33.70 7.39,30.00 4.70,26.30 9.06,27.71" fill="#fcdd09"/></g>
<g id="f-ch"><rect width="60" height="60" fill="#c92f2a"/><rect x="26" y="14.500" width="8" height="31" fill="#fff"/><rect x="14.500" y="26" width="31" height="8" fill="#fff"/></g>
<g id="f-tz"><rect width="60" height="60" fill="#1fa6e0"/><polygon points="-5,-5 65,-5 65,6.62 -5,53.38" fill="#22b43c"/><polygon points="-5,42.78 65,-3.98 65,17.22 -5,63.98" fill="#fcd116"/><polygon points="-5,45.18 65,-1.58 65,14.82 -5,61.58" fill="#000"/></g>
<g id="f-cr"><rect x="0" y="0.00" width="60" height="9.90" fill="#12288a"/><rect x="0" y="9.60" width="60" height="10.50" fill="#fff"/><rect x="0" y="19.80" width="60" height="20.90" fill="#da1a32"/><rect x="0" y="40.40" width="60" height="10.30" fill="#fff"/><rect x="0" y="50.40" width="60" height="9.90" fill="#12288a"/></g>
<g id="f-na"><rect width="60" height="60" fill="#13a04a"/><polygon points="-5,-5 65,-5 65,12.50 -5,47.50" fill="#10358a"/><polygon points="-5,38.60 65,3.60 65,21.40 -5,56.40" fill="#fff"/><polygon points="-5,40.90 65,5.90 65,19.10 -5,54.10" fill="#d8143a"/><polygon points="12.80,7.00 13.79,9.49 15.90,7.83 15.52,10.48 18.17,10.10 16.51,12.21 19.00,13.20 16.51,14.19 18.17,16.30 15.52,15.92 15.90,18.57 13.79,16.91 12.80,19.40 11.81,16.91 9.70,18.57 10.08,15.92 7.43,16.30 9.09,14.19 6.60,13.20 9.09,12.21 7.43,10.10 10.08,10.48 9.70,7.83 11.81,9.49" fill="#ffd21f"/><circle cx="12.800" cy="13.200" r="3.100" fill="#ffd21f" stroke="#10358a" stroke-width="0.600"/></g>
<g id="f-np"><rect width="60" height="60" fill="#fff"/><path d="M7.5,3.5 L50,29.300 H26.500 L48.500,57.800 H7.500 Z" fill="#e0173c" stroke="#123a9a" stroke-width="2.400" stroke-linejoin="miter"/><path d="M11.500,18.500 a7.500,7.500 0 0 0 14.500,0 a8,5.500 0 0 1 -14.500,0 z" fill="#fff"/><polygon points="18.70,18.10 19.43,19.53 20.96,19.04 20.47,20.57 21.90,21.30 20.47,22.03 20.96,23.56 19.43,23.07 18.70,24.50 17.97,23.07 16.44,23.56 16.93,22.03 15.50,21.30 16.93,20.57 16.44,19.04 17.97,19.53" fill="#fff"/><polygon points="18.00,35.70 19.25,38.83 21.90,36.75 21.42,40.08 24.75,39.60 22.67,42.25 25.80,43.50 22.67,44.75 24.75,47.40 21.42,46.92 21.90,50.25 19.25,48.17 18.00,51.30 16.75,48.17 14.10,50.25 14.58,46.92 11.25,47.40 13.33,44.75 10.20,43.50 13.33,42.25 11.25,39.60 14.58,40.08 14.10,36.75 16.75,38.83" fill="#fff"/></g>
<g id="f-qa"><rect width="60" height="60" fill="#7a1a42"/><path d="M0,0 H17 L24,3.33 L17,6.67 L24,10.00 L17,13.33 L24,16.67 L17,20.00 L24,23.33 L17,26.67 L24,30.00 L17,33.33 L24,36.67 L17,40.00 L24,43.33 L17,46.67 L24,50.00 L17,53.33 L24,56.67 L17,60.00 H0 Z" fill="#fff"/></g>
<g id="f-ci"><rect y="0" x="0.00" height="60" width="20.30" fill="#f98708"/><rect y="0" x="20.00" height="60" width="20.30" fill="#fff"/><rect y="0" x="40.00" height="60" width="20.30" fill="#10a260"/></g>
<clipPath id="cc"><circle cx="30" cy="30" r="30"/></clipPath>
<clipPath id="cr"><rect x="0" y="0" width="60" height="60" rx="13" ry="13"/></clipPath>
<linearGradient id="pgeu" x1="0" x2="1" y1="0" y2="0"><stop offset="0" stop-color="#5f9aca"/><stop offset="1" stop-color="#1560b5"/></linearGradient>
<linearGradient id="pgam" x1="0" x2="1" y1="0" y2="0"><stop offset="0" stop-color="#d8ba90"/><stop offset="1" stop-color="#c79a64"/></linearGradient>
<linearGradient id="pgaf" x1="0" x2="1" y1="0" y2="0"><stop offset="0" stop-color="#cdcdcd"/><stop offset="1" stop-color="#484848"/></linearGradient>
<linearGradient id="pgcis" x1="0" x2="1" y1="0" y2="0"><stop offset="0" stop-color="#b52424"/><stop offset="1" stop-color="#de5e54"/></linearGradient>
<linearGradient id="pgas" x1="0" x2="1" y1="0" y2="0"><stop offset="0" stop-color="#c8992f"/><stop offset="1" stop-color="#deb95a"/></linearGradient>
<linearGradient id="pgau" x1="0" x2="1" y1="0" y2="0"><stop offset="0" stop-color="#692e9e"/><stop offset="1" stop-color="#a45cdc"/></linearGradient>
<linearGradient id="gyb" gradientUnits="userSpaceOnUse" x1="930" x2="1420" y1="0" y2="0"><stop offset="0" stop-color="#8a6c00"/><stop offset="0.35" stop-color="#c9a800"/><stop offset="1" stop-color="#f5d900"/></linearGradient>
<linearGradient id="gyb2" gradientUnits="userSpaceOnUse" x1="1511" x2="1690" y1="0" y2="0"><stop offset="0" stop-color="#9a7c00"/><stop offset="0.5" stop-color="#dcbc00"/><stop offset="1" stop-color="#f6db00"/></linearGradient>
<linearGradient id="grib2" gradientUnits="userSpaceOnUse" x1="1511" x2="1756" y1="0" y2="0"><stop offset="0" stop-color="#3ab4ea"/><stop offset="0.06" stop-color="#66c2c9"/><stop offset="0.5" stop-color="#4a8cc0"/><stop offset="1" stop-color="#253f9a"/></linearGradient>
</defs>
<rect x="0" y="301" width="1788" height="100" fill="url(#gband)"/>
<ellipse cx="240" cy="411" rx="85" ry="4" fill="#000" opacity="0.22" filter="url(#blur3)"/>
<path d="M250,362 L316,408 L250,408 Z" fill="#3a1a5a" opacity="0.45" filter="url(#blur6)"/>
<path d="M245,360 L312,415 L173,415 Q169,412 169,402 Z" fill="url(#gyel)"/>
<path d="M374,203 L323,315 L245,360 Q185,392 169,404 L169,320 Q169,300 194,287 Z" fill="url(#grib)"/>
<text x="763.0" y="181.5" font-size="53" fill="#682c96" font-weight="bold" textLength="229.0" lengthAdjust="spacing">Експорт</text>
<text x="1023.5" y="181.5" font-size="53" fill="#682c96" font-weight="bold" textLength="218.0" lengthAdjust="spacing">товарів</text>
<text x="1268.0" y="198.0" font-size="110" fill="#682c96" font-weight="bold" textLength="453.0" lengthAdjust="spacing">України</text>
<text x="764.0" y="364.0" font-size="42" fill="#fff" textLength="976.0" lengthAdjust="spacing">Загальні підсумки 11 місяців 2015 року</text>
<g transform="translate(70,430) scale(0.07389)"><path d="M225,192 H765 V770 Q765,810 700,845 L495,940 L290,845 Q225,810 225,770 Z" fill="#fff" stroke="#7a7a7a" stroke-width="11"/><g fill="none" stroke="#555" stroke-width="36" stroke-linejoin="miter"><path d="M322,330 V742 H668 V330"/><path d="M320,320 Q400,420 405,555 Q405,600 372,612 M670,320 Q590,420 585,555 Q585,600 618,612" stroke-width="32"/><path d="M422,745 Q428,830 495,882 Q562,830 568,745 M495,640 V870 M435,800 H555" stroke-width="26"/><circle cx="392" cy="618" r="28" stroke-width="24"/><circle cx="598" cy="618" r="28" stroke-width="24"/></g><g fill="#555"><polygon points="305,292 348,340 335,420 305,420"/><polygon points="685,292 642,340 655,420 685,420"/><polygon points="495,243 522,330 516,480 550,610 495,670 440,610 474,480 468,330"/></g></g>
<rect x="152.9" y="449.9" width="1.9" height="23.7" fill="#4cc0f0"/><rect x="152.9" y="473.6" width="1.9" height="22.2" fill="#f7e74a"/>
<text x="176.6" y="460.8" font-size="14.7" fill="#555" textLength="121.2" lengthAdjust="spacing">МІНІСТЕРСТВО</text>
<text x="176.6" y="478.6" font-size="14.7" fill="#555" textLength="220.9" lengthAdjust="spacing">ЕКОНОМІЧНОГО РОЗВИТКУ</text>
<text x="176.6" y="496.3" font-size="14.7" fill="#555" textLength="156.8" lengthAdjust="spacing">І ТОРГІВЛІ УКРАЇНИ</text>
<text transform="translate(94.6,557.9) scale(0.966,1)" font-size="44.5" fill="#682c96" font-weight="bold" textLength="152.8" lengthAdjust="spacing">ТОП-15</text>
<text transform="translate(257.2,557.9) scale(0.966,1)" font-size="44.5" fill="#682c96" font-weight="bold" textLength="341.0" lengthAdjust="spacing">країн-партнерів,</text>
<text transform="translate(599.5,557.9) scale(0.966,1)" font-size="44.5" fill="#682c96" font-weight="bold" textLength="51.4" lengthAdjust="spacing">до</text>
<text transform="translate(662.5,557.9) scale(0.966,1)" font-size="44.5" fill="#682c96" font-weight="bold" textLength="98.4" lengthAdjust="spacing">яких</text>
<text transform="translate(771.5,557.9) scale(0.966,1)" font-size="44.5" fill="#682c96" font-weight="bold" textLength="227.5" lengthAdjust="spacing">найбільше</text>
<text transform="translate(1006.3,557.9) scale(0.966,1)" font-size="44.5" fill="#682c96" font-weight="bold" textLength="295.1" lengthAdjust="spacing">поставлялося</text>
<text transform="translate(1305.3,557.9) scale(0.966,1)" font-size="44.5" fill="#682c96" font-weight="bold" textLength="256.6" lengthAdjust="spacing">українських</text>
<text transform="translate(1563.4,557.9) scale(0.966,1)" font-size="44.5" fill="#682c96" font-weight="bold" textLength="165.0" lengthAdjust="spacing">товарів</text>
<rect x="336.1" y="643.3" width="77.9" height="197.0" fill="#d2b48c"/>
<rect x="422.7" y="766.3" width="77.9" height="74.0" fill="#d2b48c"/>
<rect x="509.2" y="798.2" width="78.0" height="42.1" fill="#d2b48c"/>
<rect x="595.8" y="801.9" width="77.9" height="38.4" fill="#d2b48c"/>
<rect x="679.2" y="809.2" width="77.5" height="31.1" fill="#d2b48c"/>
<rect x="765.8" y="818.7" width="77.5" height="21.6" fill="#d2b48c"/>
<rect x="852.4" y="826.9" width="77.4" height="13.4" fill="#d2b48c"/>
<rect x="938.3" y="827.7" width="78.2" height="12.6" fill="#d2b48c"/>
<rect x="1025.2" y="829.1" width="77.8" height="11.2" fill="#d2b48c"/>
<rect x="1111.6" y="831.0" width="78.4" height="9.3" fill="#d2b48c"/>
<rect x="1200.0" y="832.0" width="77.8" height="8.3" fill="#d2b48c"/>
<rect x="1285.0" y="832.5" width="77.8" height="7.8" fill="#d2b48c"/>
<rect x="1371.5" y="833.0" width="77.8" height="7.3" fill="#d2b48c"/>
<rect x="1458.0" y="833.0" width="77.8" height="7.3" fill="#d2b48c"/>
<rect x="1544.4" y="834.0" width="78.3" height="6.3" fill="#d2b48c"/>
<rect x="280" y="842.4" width="1392" height="1.7" fill="#404040"/>
<text x="337.9" y="631.9" font-size="34.6" fill="#5e9bc6" font-weight="bold" textLength="58.9" lengthAdjust="spacingAndGlyphs">33,8</text>
<text x="397.0" y="620.1" font-size="17" fill="#5e9bc6" font-weight="bold" textLength="14.3" lengthAdjust="spacingAndGlyphs">%</text>
<text x="424.3" y="758.6" font-size="34.6" fill="#5e9bc6" font-weight="bold" textLength="60.0" lengthAdjust="spacingAndGlyphs">12,7</text>
<text x="483.6" y="746.8" font-size="17" fill="#5e9bc6" font-weight="bold" textLength="14.7" lengthAdjust="spacingAndGlyphs">%</text>
<text x="525.2" y="786.8" font-size="34.6" fill="#5e9bc6" font-weight="bold" textLength="42.0" lengthAdjust="spacingAndGlyphs">7,2</text>
<text x="566.5" y="775.0" font-size="17" fill="#5e9bc6" font-weight="bold" textLength="16.1" lengthAdjust="spacingAndGlyphs">%</text>
<text x="606.7" y="795.0" font-size="34.6" fill="#5e9bc6" font-weight="bold" textLength="41.6" lengthAdjust="spacingAndGlyphs">6,6</text>
<text x="647.6" y="783.2" font-size="17" fill="#5e9bc6" font-weight="bold" textLength="16.6" lengthAdjust="spacingAndGlyphs">%</text>
<text x="693.7" y="798.2" font-size="34.6" fill="#5e9bc6" font-weight="bold" textLength="42.1" lengthAdjust="spacingAndGlyphs">5,4</text>
<text x="735.1" y="786.4" font-size="17" fill="#5e9bc6" font-weight="bold" textLength="16.1" lengthAdjust="spacingAndGlyphs">%</text>
<text x="777.5" y="811.0" font-size="34.6" fill="#5e9bc6" font-weight="bold" textLength="41.2" lengthAdjust="spacingAndGlyphs">3,7</text>
<text x="818.0" y="799.2" font-size="17" fill="#5e9bc6" font-weight="bold" textLength="16.1" lengthAdjust="spacingAndGlyphs">%</text>
<text x="867.8" y="815.0" font-size="34.6" fill="#5e9bc6" font-weight="bold" textLength="41.2" lengthAdjust="spacingAndGlyphs">2,3</text>
<text x="908.3" y="803.2" font-size="17" fill="#5e9bc6" font-weight="bold" textLength="16.1" lengthAdjust="spacingAndGlyphs">%</text>
<text x="952.2" y="821.9" font-size="34.6" fill="#5e9bc6" font-weight="bold" textLength="40.8" lengthAdjust="spacingAndGlyphs">2,1</text>
<text x="993.3" y="810.1" font-size="17" fill="#5e9bc6" font-weight="bold" textLength="16.5" lengthAdjust="spacingAndGlyphs">%</text>
<text x="1037.0" y="820.0" font-size="34.6" fill="#5e9bc6" font-weight="bold" textLength="41.5" lengthAdjust="spacingAndGlyphs">1,9</text>
<text x="1078.8" y="808.2" font-size="17" fill="#5e9bc6" font-weight="bold" textLength="16.5" lengthAdjust="spacingAndGlyphs">%</text>
<text x="1122.0" y="823.3" font-size="34.6" fill="#5e9bc6" font-weight="bold" textLength="43.0" lengthAdjust="spacingAndGlyphs">1,6</text>
<text x="1164.3" y="811.5" font-size="17" fill="#5e9bc6" font-weight="bold" textLength="16.5" lengthAdjust="spacingAndGlyphs">%</text>
<text x="1208.6" y="821.9" font-size="34.6" fill="#5e9bc6" font-weight="bold" textLength="41.4" lengthAdjust="spacingAndGlyphs">1,4</text>
<text x="1250.3" y="810.1" font-size="17" fill="#5e9bc6" font-weight="bold" textLength="16.5" lengthAdjust="spacingAndGlyphs">%</text>
<text x="1299.8" y="823.3" font-size="34.6" fill="#5e9bc6" font-weight="bold" textLength="41.5" lengthAdjust="spacingAndGlyphs">1,4</text>
<text x="1341.5" y="811.5" font-size="17" fill="#5e9bc6" font-weight="bold" textLength="16.5" lengthAdjust="spacingAndGlyphs">%</text>
<text x="1388.7" y="824.3" font-size="34.6" fill="#5e9bc6" font-weight="bold" textLength="41.3" lengthAdjust="spacingAndGlyphs">1,3</text>
<text x="1430.3" y="812.5" font-size="17" fill="#5e9bc6" font-weight="bold" textLength="16.6" lengthAdjust="spacingAndGlyphs">%</text>
<text x="1472.8" y="824.3" font-size="34.6" fill="#5e9bc6" font-weight="bold" textLength="41.4" lengthAdjust="spacingAndGlyphs">1,3</text>
<text x="1514.3" y="812.5" font-size="17" fill="#5e9bc6" font-weight="bold" textLength="16.7" lengthAdjust="spacingAndGlyphs">%</text>
<text x="1561.6" y="822.4" font-size="34.6" fill="#5e9bc6" font-weight="bold" textLength="41.4" lengthAdjust="spacingAndGlyphs">1,1</text>
<text x="1602.3" y="810.6" font-size="17" fill="#5e9bc6" font-weight="bold" textLength="16.5" lengthAdjust="spacingAndGlyphs">%</text>
<text x="343.4" y="866.6" font-size="11.3" fill="#333" font-weight="bold" textLength="44.7" lengthAdjust="spacing">ЄС (28)</text>
<text x="428.6" y="864.3" font-size="11.3" fill="#333" font-weight="bold" textLength="60.6" lengthAdjust="spacing">Російська</text>
<text x="426.3" y="878.9" font-size="11.3" fill="#333" font-weight="bold" textLength="65.2" lengthAdjust="spacing">Федерація</text>
<text x="512.9" y="867.5" font-size="11.3" fill="#333" font-weight="bold" textLength="63.4" lengthAdjust="spacing">Туреччина</text>
<text x="607.7" y="865.6" font-size="11.3" fill="#333" font-weight="bold" textLength="35.6" lengthAdjust="spacing">Китай</text>
<text x="689.2" y="865.6" font-size="11.3" fill="#333" font-weight="bold" textLength="42.0" lengthAdjust="spacing">Єгипет</text>
<text x="788.6" y="865.6" font-size="11.3" fill="#333" font-weight="bold" textLength="30.1" lengthAdjust="spacing">Індія</text>
<text x="864.7" y="865.6" font-size="11.3" fill="#333" font-weight="bold" textLength="55.6" lengthAdjust="spacing">Білорусь</text>
<text x="942.6" y="862.2" font-size="11.3" fill="#333" font-weight="bold" textLength="68.2" lengthAdjust="spacing">Саудівська</text>
<text x="957.5" y="876.7" font-size="11.3" fill="#333" font-weight="bold" textLength="39.8" lengthAdjust="spacing">Аравія</text>
<text x="1036.2" y="864.6" font-size="11.3" fill="#333" font-weight="bold" textLength="61.1" lengthAdjust="spacing">Казахстан</text>
<text x="1126.5" y="862.2" font-size="11.3" fill="#333" font-weight="bold" textLength="43.8" lengthAdjust="spacing">Ізраїль</text>
<text x="1221.2" y="862.2" font-size="11.3" fill="#333" font-weight="bold" textLength="24.9" lengthAdjust="spacing">Іран</text>
<text x="1300.4" y="865.6" font-size="11.3" fill="#333" font-weight="bold" textLength="53.8" lengthAdjust="spacing">Молдова</text>
<text x="1398.9" y="865.6" font-size="11.3" fill="#333" font-weight="bold" textLength="29.3" lengthAdjust="spacing">США</text>
<text x="1492.5" y="864.6" font-size="11.3" fill="#333" font-weight="bold" textLength="24.5" lengthAdjust="spacing">Ірак</text>
<text x="1567.0" y="864.6" font-size="11.3" fill="#333" font-weight="bold" textLength="37.9" lengthAdjust="spacing">Грузія</text>
<g transform="translate(337.25,891.65) scale(1.1417)"><g clip-path="url(#cc)"><use href="#f-eu" transform="translate(30,30) scale(1.0) translate(-30,-30)"/></g><circle cx="30" cy="30" r="29.500" fill="none" stroke="#f2d31b" stroke-width="1.500"/></g>
<g transform="translate(424.45,889.65) scale(1.1583)"><g clip-path="url(#cc)"><use href="#f-ru" transform="translate(30,30) scale(1.24) translate(-30,-30)"/></g><circle cx="30" cy="30" r="29.500" fill="none" stroke="#f2d31b" stroke-width="1.500"/></g>
<g transform="translate(510.40,891.90) scale(1.1333)"><g clip-path="url(#cc)"><use href="#f-tr" transform="translate(30,30) scale(1.24) translate(-30,-30)"/></g><circle cx="30" cy="30" r="29.500" fill="none" stroke="#f2d31b" stroke-width="1.500"/></g>
<g transform="translate(593.45,891.65) scale(1.1250)"><g clip-path="url(#cc)"><use href="#f-cn" transform="translate(30,30) scale(1.24) translate(-30,-30)"/></g><circle cx="30" cy="30" r="29.500" fill="none" stroke="#f2d31b" stroke-width="1.500"/></g>
<g transform="translate(676.65,891.45) scale(1.1583)"><g clip-path="url(#cc)"><use href="#f-eg" transform="translate(30,30) scale(1.24) translate(-30,-30)"/></g><circle cx="30" cy="30" r="29.500" fill="none" stroke="#f2d31b" stroke-width="1.500"/></g>
<g transform="translate(770.75,890.95) scale(1.1583)"><g clip-path="url(#cc)"><use href="#f-in" transform="translate(30,30) scale(1.24) translate(-30,-30)"/></g><circle cx="30" cy="30" r="29.500" fill="none" stroke="#f2d31b" stroke-width="1.500"/></g>
<g transform="translate(857.25,891.15) scale(1.1417)"><g clip-path="url(#cc)"><use href="#f-by" transform="translate(30,30) scale(1.0) translate(-30,-30)"/></g><circle cx="30" cy="30" r="29.500" fill="none" stroke="#f2d31b" stroke-width="1.500"/></g>
<g transform="translate(945.75,892.45) scale(1.1083)"><g clip-path="url(#cc)"><use href="#f-sa" transform="translate(30,30) scale(1.24) translate(-30,-30)"/></g><circle cx="30" cy="30" r="29.500" fill="none" stroke="#f2d31b" stroke-width="1.500"/></g>
<g transform="translate(1033.55,893.35) scale(1.1083)"><g clip-path="url(#cc)"><use href="#f-kz" transform="translate(30,30) scale(1.24) translate(-30,-30)"/></g><circle cx="30" cy="30" r="29.500" fill="none" stroke="#f2d31b" stroke-width="1.500"/></g>
<g transform="translate(1118.70,888.00) scale(1.1333)"><g clip-path="url(#cc)"><use href="#f-il" transform="translate(30,30) scale(1.24) translate(-30,-30)"/></g><circle cx="30" cy="30" r="29.500" fill="none" stroke="#f2d31b" stroke-width="1.500"/></g>
<g transform="translate(1205.75,892.95) scale(1.1083)"><g clip-path="url(#cc)"><use href="#f-ir" transform="translate(30,30) scale(1.24) translate(-30,-30)"/></g><circle cx="30" cy="30" r="29.500" fill="none" stroke="#f2d31b" stroke-width="1.500"/></g>
<g transform="translate(1292.10,892.40) scale(1.1000)"><g clip-path="url(#cc)"><use href="#f-md" transform="translate(30,30) scale(1.24) translate(-30,-30)"/></g><circle cx="30" cy="30" r="29.500" fill="none" stroke="#f2d31b" stroke-width="1.500"/></g>
<g transform="translate(1380.55,895.75) scale(1.1083)"><g clip-path="url(#cc)"><use href="#f-us" transform="translate(30,30) scale(1.0) translate(-30,-30)"/></g><circle cx="30" cy="30" r="29.500" fill="none" stroke="#f2d31b" stroke-width="1.500"/></g>
<g transform="translate(1471.25,892.55) scale(1.1083)"><g clip-path="url(#cc)"><use href="#f-iq" transform="translate(30,30) scale(1.24) translate(-30,-30)"/></g><circle cx="30" cy="30" r="29.500" fill="none" stroke="#f2d31b" stroke-width="1.500"/></g>
<g transform="translate(1558.25,893.75) scale(1.0917)"><g clip-path="url(#cc)"><use href="#f-ge" transform="translate(30,30) scale(1.0) translate(-30,-30)"/></g><circle cx="30" cy="30" r="29.500" fill="none" stroke="#f2d31b" stroke-width="1.500"/></g>
<rect x="165.3" y="834" width="0.8" height="5" fill="#bdbdbd"/>
<text transform="translate(83.5,1047.8) scale(0.966,1)" font-size="44.5" fill="#682c96" font-weight="bold" textLength="200.6" lengthAdjust="spacing">Динаміка</text>
<text transform="translate(290.1,1047.8) scale(0.966,1)" font-size="44.5" fill="#682c96" font-weight="bold" textLength="187.1" lengthAdjust="spacing">експорту</text>
<text transform="translate(481.7,1047.8) scale(0.966,1)" font-size="44.5" fill="#682c96" font-weight="bold" textLength="166.4" lengthAdjust="spacing">товарів</text>
<text transform="translate(654.3,1047.8) scale(0.966,1)" font-size="44.5" fill="#682c96" font-weight="bold" textLength="23.2" lengthAdjust="spacing">у</text>
<text transform="translate(689.2,1047.8) scale(0.966,1)" font-size="44.5" fill="#682c96" font-weight="bold" textLength="403.6" lengthAdjust="spacing">континентальному</text>
<text transform="translate(1091.1,1047.8) scale(0.966,1)" font-size="44.5" fill="#682c96" font-weight="bold" textLength="145.0" lengthAdjust="spacing">розрізі</text>
<polygon points="552.8,1196.5 568.8,1190.1 572.0,1185.2 570.4,1180.4 578.4,1175.6 582.4,1170.0 594.4,1165.2 595.2,1161.2 607.2,1157.2 620.9,1154.8 629.7,1156.4 642.5,1158.0 652.1,1158.8 666.5,1157.2 677.7,1158.8 684.1,1161.2 688.1,1162.8 700.1,1162.8 709.7,1162.0 716.1,1165.2 725.7,1166.0 732.1,1164.4 737.7,1165.2 736.9,1168.4 728.9,1171.6 716.1,1177.2 707.3,1182.8 705.7,1187.6 712.9,1190.1 720.9,1193.3 723.3,1197.3 722.5,1202.9 725.7,1205.3 728.1,1201.3 729.7,1193.3 735.3,1190.1 737.7,1185.2 740.1,1178.8 743.3,1176.4 749.7,1175.6 754.5,1180.4 757.7,1185.2 761.7,1184.4 765.7,1181.2 767.3,1186.8 771.3,1193.3 775.4,1198.1 774.6,1203.7 770.5,1206.1 764.1,1210.1 754.5,1212.5 746.5,1214.1 740.1,1216.5 752.9,1218.9 748.1,1223.7 744.9,1225.3 740.9,1224.5 736.1,1229.3 734.5,1231.7 728.9,1234.1 722.5,1239.7 718.5,1242.9 717.7,1249.3 712.9,1253.3 706.5,1257.3 701.7,1261.3 700.1,1264.5 701.7,1268.5 702.5,1273.3 700.1,1276.5 697.7,1273.3 696.1,1267.7 693.7,1263.7 687.3,1262.1 680.9,1265.3 672.9,1263.7 666.5,1267.7 661.7,1271.7 660.9,1278.1 658.5,1282.9 658.5,1287.7 660.9,1292.5 664.9,1295.7 670.5,1294.1 674.5,1289.3 676.9,1286.9 682.5,1286.9 680.9,1292.5 679.3,1297.3 680.9,1302.1 688.9,1304.5 689.7,1310.1 688.1,1316.5 692.1,1319.7 697.7,1322.1 700.9,1325.3 694.5,1325.3 687.3,1322.9 683.3,1317.3 679.3,1311.7 672.9,1306.9 666.5,1302.1 658.5,1301.3 652.1,1298.1 644.1,1294.1 640.1,1289.3 637.7,1282.9 633.7,1276.5 630.5,1270.1 627.3,1262.1 624.9,1258.9 619.3,1254.1 614.4,1249.3 612.0,1241.3 612.8,1233.3 616.8,1225.3 620.9,1218.9 623.3,1212.5 622.5,1206.1 624.1,1199.7 623.3,1193.3 624.9,1186.8 620.9,1182.8 615.2,1180.4 607.2,1179.6 599.2,1182.0 589.6,1185.2 580.0,1189.3 567.2,1193.3" fill="#d2b48c" stroke="#d2b48c" stroke-width="0.6" stroke-linejoin="round"/>
<polygon points="623.3,1259.7 624.5,1266.1 627.7,1274.9 630.8,1282.1 628.9,1282.4 624.9,1276.5 621.2,1269.3 620.4,1261.3" fill="#d2b48c" stroke="#d2b48c" stroke-width="0.6" stroke-linejoin="round"/>
<polygon points="677.7,1153.2 685.7,1148.4 696.9,1147.6 708.1,1150.0 712.9,1154.8 706.5,1159.6 693.7,1160.4 684.1,1158.0" fill="#d2b48c" stroke="#d2b48c" stroke-width="0.6" stroke-linejoin="round"/>
<polygon points="695.3,1142.8 706.5,1141.2 709.7,1144.4 700.1,1146.0" fill="#d2b48c" stroke="#d2b48c" stroke-width="0.6" stroke-linejoin="round"/>
<polygon points="714.5,1139.6 719.3,1138.8 718.5,1142.0 713.7,1142.8" fill="#d2b48c" stroke="#d2b48c" stroke-width="0.6" stroke-linejoin="round"/>
<polygon points="728.9,1138.8 735.3,1138.0 734.5,1141.2 728.1,1141.2" fill="#d2b48c" stroke="#d2b48c" stroke-width="0.6" stroke-linejoin="round"/>
<polygon points="725.7,1144.4 736.9,1142.8 738.5,1146.8 728.1,1148.4" fill="#d2b48c" stroke="#d2b48c" stroke-width="0.6" stroke-linejoin="round"/>
<polygon points="738.5,1151.6 746.5,1148.4 754.5,1147.6 764.1,1150.8 770.5,1154.8 772.1,1161.2 775.4,1164.4 768.9,1167.6 771.3,1173.2 764.1,1175.6 759.3,1171.6 752.9,1169.2 746.5,1170.8 748.1,1164.4 743.3,1158.0" fill="#d2b48c" stroke="#d2b48c" stroke-width="0.6" stroke-linejoin="round"/>
<polygon points="745.7,1136.4 756.1,1133.2 777.0,1131.6 789.8,1132.4 780.2,1137.2 767.3,1141.2 756.1,1142.8 748.1,1140.4" fill="#d2b48c" stroke="#d2b48c" stroke-width="0.6" stroke-linejoin="round"/>
<polygon points="716.1,1150.0 727.3,1148.4 732.1,1153.2 730.5,1159.6 720.9,1161.2 717.7,1156.4" fill="#d2b48c" stroke="#d2b48c" stroke-width="0.6" stroke-linejoin="round"/>
<polygon points="729.7,1149.2 741.7,1147.6 742.5,1150.8 732.1,1151.9" fill="#d2b48c" stroke="#d2b48c" stroke-width="0.6" stroke-linejoin="round"/>
<polygon points="688.9,1284.5 696.9,1282.1 704.9,1283.7 712.1,1287.7 716.1,1290.9 709.7,1290.1 701.7,1286.9 693.7,1286.1" fill="#d2b48c" stroke="#d2b48c" stroke-width="0.6" stroke-linejoin="round"/>
<polygon points="713.7,1292.5 720.9,1290.9 726.5,1293.3 722.5,1295.7 714.5,1295.4" fill="#d2b48c" stroke="#d2b48c" stroke-width="0.6" stroke-linejoin="round"/>
<polygon points="730.5,1294.9 733.7,1294.9 733.7,1296.2 730.5,1296.2" fill="#d2b48c" stroke="#d2b48c" stroke-width="0.6" stroke-linejoin="round"/>
<polygon points="704.1,1294.9 708.1,1294.4 708.1,1296.0 704.1,1296.2" fill="#d2b48c" stroke="#d2b48c" stroke-width="0.6" stroke-linejoin="round"/>
<polygon points="704.9,1272.5 708.1,1271.7 708.9,1274.9 706.5,1279.7 705.7,1275.7" fill="#d2b48c" stroke="#d2b48c" stroke-width="0.6" stroke-linejoin="round"/>
<polygon points="763.3,1212.5 770.5,1207.7 777.0,1210.1 777.8,1215.7 772.9,1216.5 768.9,1214.1 764.1,1215.7" fill="#d2b48c" stroke="#d2b48c" stroke-width="0.6" stroke-linejoin="round"/>
<polygon points="731.3,1168.0 740.1,1166.4 746.5,1168.8 744.1,1173.4 736.1,1174.4" fill="#d2b48c" stroke="#d2b48c" stroke-width="0.6" stroke-linejoin="round"/>
<polygon points="709.7,1143.6 716.1,1142.8 716.9,1146.5 711.0,1147.1" fill="#d2b48c" stroke="#d2b48c" stroke-width="0.6" stroke-linejoin="round"/>
<polygon points="720.1,1142.8 724.1,1142.0 724.9,1145.5 720.6,1146.2" fill="#d2b48c" stroke="#d2b48c" stroke-width="0.6" stroke-linejoin="round"/>
<polygon points="565.6,1181.2 569.6,1180.4 569.6,1182.4 565.6,1182.8" fill="#d2b48c" stroke="#d2b48c" stroke-width="0.6" stroke-linejoin="round"/>
<polygon points="567.2,1172.4 571.2,1172.8 571.2,1174.4 567.2,1174.0" fill="#d2b48c" stroke="#d2b48c" stroke-width="0.6" stroke-linejoin="round"/>
<polygon points="776.7,1140.6 765.9,1136.6 776.7,1133.1 790.3,1131.2 820.1,1132.0 844.5,1131.2 860.7,1132.5 871.6,1133.9 858.0,1139.3 854.0,1148.8 847.2,1154.2 841.8,1158.2 830.9,1163.7 820.1,1166.4 814.7,1171.8 810.6,1178.6 805.2,1181.3 798.4,1178.6 795.2,1170.4 795.7,1162.3 798.4,1156.9 793.0,1150.1 779.5,1144.7" fill="#d2b48c" stroke="#d2b48c" stroke-width="0.6" stroke-linejoin="round"/>
<polygon points="694.4,1322.8 698.4,1321.2 702.4,1324.4 708.0,1318.0 715.2,1314.0 717.6,1316.4 721.6,1314.0 727.2,1316.4 735.2,1316.4 743.3,1317.2 744.9,1322.0 749.7,1326.0 756.1,1329.2 762.5,1331.6 767.3,1336.4 769.7,1342.8 772.1,1346.0 778.5,1349.2 786.5,1353.2 796.1,1354.8 803.3,1358.8 806.5,1364.4 805.7,1371.7 802.5,1378.1 798.5,1384.5 796.9,1392.5 794.5,1400.5 790.5,1406.1 783.3,1410.9 779.3,1416.5 776.9,1422.1 774.5,1429.3 770.5,1435.7 765.7,1442.1 760.1,1443.7 762.5,1448.5 759.3,1452.5 752.1,1454.9 751.3,1459.7 747.3,1463.7 748.1,1469.3 744.9,1474.1 748.1,1478.9 745.7,1484.5 747.3,1490.1 752.9,1494.1 757.7,1497.3 752.1,1498.1 744.9,1494.9 738.5,1489.3 732.8,1482.1 728.8,1474.1 728.0,1466.1 725.6,1456.5 724.0,1448.5 725.6,1438.9 724.0,1429.3 724.0,1418.1 724.0,1408.5 723.2,1400.5 720.0,1394.1 714.4,1389.3 707.2,1384.5 702.4,1376.5 697.6,1368.5 693.6,1360.4 694.4,1353.2 696.0,1346.0 699.2,1339.6 701.6,1332.4 700.8,1326.8" fill="#d2b48c" stroke="#d2b48c" stroke-width="0.6" stroke-linejoin="round"/>
<polygon points="660.0,1297.2 666.4,1302.8 672.0,1307.6 679.2,1314.0 684.0,1320.4 688.0,1323.6 692.0,1324.4 694.4,1322.8 698.4,1321.2 694.4,1320.1 691.2,1318.0 688.8,1314.0 689.6,1306.0 686.4,1302.8 680.8,1302.0 678.4,1298.0 680.8,1292.4 681.6,1290.0 660.0,1290.0" fill="#d2b48c" stroke="#d2b48c" stroke-width="0.6" stroke-linejoin="round"/>
<polygon points="764.1,1487.7 770.5,1487.2 769.7,1489.8 764.9,1489.8" fill="#d2b48c" stroke="#d2b48c" stroke-width="0.6" stroke-linejoin="round"/>
<polygon points="877.6,1250.0 886.4,1247.6 894.4,1245.2 904.0,1244.4 912.0,1243.6 915.2,1246.0 916.8,1251.6 923.3,1255.6 931.3,1259.6 937.7,1261.2 940.1,1257.2 944.1,1255.6 952.1,1258.0 961.7,1260.4 966.5,1259.6 971.3,1261.2 972.9,1266.0 975.3,1273.2 978.5,1281.2 981.7,1289.2 985.7,1297.2 990.5,1303.6 996.1,1310.9 999.3,1316.5 1006.5,1314.9 1016.1,1313.3 1015.3,1319.7 1012.1,1327.7 1006.5,1337.3 1000.1,1345.3 993.7,1353.3 988.9,1361.3 987.3,1369.3 989.7,1375.7 990.5,1383.7 987.3,1391.7 980.9,1398.1 976.1,1402.9 976.1,1409.3 971.3,1414.1 968.1,1419.7 966.5,1426.9 961.7,1431.7 955.3,1436.5 948.9,1438.9 942.5,1440.5 937.7,1441.3 934.5,1438.1 933.7,1431.7 930.5,1423.7 927.3,1414.1 925.7,1406.1 923.3,1399.7 920.9,1393.3 921.7,1385.3 924.1,1378.9 924.1,1370.9 921.7,1364.5 918.5,1358.1 914.4,1351.7 915.2,1345.3 915.2,1338.9 912.0,1334.1 907.2,1332.5 903.2,1330.1 897.6,1329.3 891.2,1331.7 883.2,1332.5 874.4,1333.3 868.0,1330.1 861.6,1324.5 856.0,1318.1 852.0,1310.1 850.4,1305.2 852.0,1298.8 851.2,1290.8 852.0,1284.4 856.0,1276.4 860.0,1270.0 865.6,1265.2 869.6,1258.8 873.6,1253.2" fill="#b3b3b3" stroke="#b3b3b3" stroke-width="0.6" stroke-linejoin="round"/>
<polygon points="1012.1,1379.7 1013.7,1383.7 1012.9,1390.1 1009.7,1398.1 1006.5,1406.1 1003.3,1414.1 999.3,1416.5 996.1,1412.5 996.1,1406.1 999.3,1398.1 1000.9,1391.7 1005.7,1387.7 1009.7,1382.9" fill="#b3b3b3" stroke="#b3b3b3" stroke-width="0.6" stroke-linejoin="round"/>
<polygon points="910.3,1188.4 913.0,1187.7 914.3,1191.8 915.0,1195.2 917.7,1197.2 923.2,1196.5 928.6,1195.6 932.6,1195.2 935.3,1193.2 934.7,1189.8 936.7,1187.7 940.1,1186.4 939.4,1183.9 943.5,1183.0 947.5,1183.0 953.0,1185.0 953.0,1204.0 944.8,1213.5 950.9,1214.1 953.6,1216.9 954.3,1220.9 955.0,1224.3 954.3,1228.4 950.9,1230.4 950.2,1232.4 951.6,1234.5 949.6,1235.8 946.2,1235.1 944.8,1237.9 946.9,1241.9 944.8,1244.6 942.8,1242.6 941.4,1239.2 939.4,1236.5 936.7,1233.1 934.7,1230.4 931.3,1227.0 928.6,1224.3 925.2,1222.3 922.5,1220.5 920.4,1220.9 922.5,1224.3 925.9,1228.4 929.9,1232.4 932.6,1235.8 931.3,1238.5 929.2,1236.5 927.9,1239.2 925.9,1236.5 923.8,1232.4 920.4,1228.4 917.7,1225.0 915.0,1223.0 911.6,1224.3 908.2,1225.7 904.2,1225.0 900.1,1227.0 897.4,1229.7 896.1,1233.8 893.3,1237.9 890.6,1241.2 886.6,1243.3 881.8,1244.0 879.1,1246.0 875.7,1244.0 872.4,1243.3 870.3,1239.2 871.7,1235.1 872.4,1228.4 875.1,1226.3 881.2,1226.3 886.6,1227.0 889.3,1225.0 888.6,1220.2 886.6,1216.9 882.5,1214.8 883.2,1212.1 887.9,1211.4 892.0,1209.4 896.1,1208.1 898.1,1205.3 900.8,1202.6 904.2,1199.9 908.2,1198.6 910.3,1195.9 908.9,1191.8" fill="#1565b5" stroke="#1565b5" stroke-width="0.6" stroke-linejoin="round"/>
<polygon points="946.9,1157.3 943.5,1155.5 938.1,1154.9 932.6,1156.3 927.2,1158.6 921.8,1162.0 917.7,1165.4 913.7,1169.4 909.6,1172.8 904.2,1175.5 902.2,1178.2 902.2,1182.3 904.2,1186.4 908.2,1187.1 911.0,1184.3 913.7,1186.4 915.7,1189.8 917.1,1193.2 920.4,1193.8 923.8,1191.8 925.2,1187.1 925.9,1183.0 927.9,1179.6 927.2,1176.2 929.9,1172.8 932.6,1169.4 935.3,1167.4 938.1,1168.1 936.7,1172.2 934.0,1176.2 932.6,1180.3 935.3,1183.0 939.4,1183.7 944.8,1182.3 953.0,1181.0 953.0,1160.6" fill="#1565b5" stroke="#1565b5" stroke-width="0.6" stroke-linejoin="round"/>
<polygon points="881.8,1185.7 885.2,1185.0 885.9,1189.1 888.6,1191.8 889.3,1195.9 892.0,1198.6 894.7,1201.3 895.4,1204.7 892.0,1206.7 887.3,1206.7 882.5,1207.4 884.5,1204.0 882.5,1201.3 885.2,1199.2 883.9,1195.9 881.8,1193.2 880.5,1189.1" fill="#1565b5" stroke="#1565b5" stroke-width="0.6" stroke-linejoin="round"/>
<polygon points="873.7,1195.9 878.4,1194.5 879.8,1197.9 878.4,1202.0 874.4,1203.3 871.7,1200.6" fill="#1565b5" stroke="#1565b5" stroke-width="0.6" stroke-linejoin="round"/>
<polygon points="847.0,1167.4 855.4,1165.8 863.5,1166.1 866.3,1168.8 862.2,1171.5 854.1,1172.6 848.0,1171.2" fill="#1565b5" stroke="#1565b5" stroke-width="0.6" stroke-linejoin="round"/>
<polygon points="908.2,1136.9 917.7,1136.0 925.9,1135.6 933.3,1136.5 929.9,1139.0 925.9,1139.6 929.9,1141.0 925.9,1141.7 920.4,1140.3 917.7,1142.4 913.7,1140.3 910.3,1139.0" fill="#1565b5" stroke="#1565b5" stroke-width="0.6" stroke-linejoin="round"/>
<polygon points="911.0,1228.4 913.0,1228.4 913.4,1236.5 911.0,1237.2" fill="#1565b5" stroke="#1565b5" stroke-width="0.6" stroke-linejoin="round"/>
<polygon points="911.6,1224.0 913.1,1223.5 913.1,1227.7 911.6,1227.7" fill="#1565b5" stroke="#1565b5" stroke-width="0.6" stroke-linejoin="round"/>
<polygon points="920.4,1240.6 927.2,1241.2 925.9,1244.0 921.8,1242.6" fill="#1565b5" stroke="#1565b5" stroke-width="0.6" stroke-linejoin="round"/>
<polygon points="946.2,1247.3 951.6,1248.0 951.3,1249.1 946.5,1248.8" fill="#1565b5" stroke="#1565b5" stroke-width="0.6" stroke-linejoin="round"/>
<polygon points="966.8,1248.1 970.6,1247.7 970.3,1249.6 967.0,1249.8" fill="#1565b5" stroke="#1565b5" stroke-width="0.6" stroke-linejoin="round"/>
<polygon points="950.9,1230.4 955.7,1232.7 961.1,1231.8 966.5,1230.4 971.9,1230.4 977.3,1231.4 980.0,1228.4 999.0,1214.8 1083.4,1196.2 1152.4,1192.8 1178.3,1206.6 1183.4,1225.5 1180.9,1230.7 1178.3,1236.7 1182.6,1239.3 1186.0,1242.8 1188.6,1247.9 1186.0,1250.5 1182.6,1247.1 1180.0,1242.8 1176.6,1238.4 1171.4,1236.7 1167.1,1235.0 1162.8,1235.9 1159.3,1239.3 1162.8,1242.8 1167.9,1244.5 1166.2,1247.9 1168.8,1253.1 1173.1,1256.6 1177.4,1261.7 1178.3,1266.9 1177.9,1270.3 1174.5,1277.2 1169.3,1282.4 1164.1,1285.9 1159.0,1287.6 1152.1,1288.4 1147.8,1290.2 1149.5,1294.5 1153.8,1299.7 1157.2,1305.7 1157.2,1311.7 1153.8,1316.9 1148.6,1321.2 1146.9,1318.6 1141.7,1311.7 1136.6,1310.0 1134.0,1310.0 1134.8,1316.9 1136.6,1323.8 1140.0,1330.7 1143.4,1336.7 1146.0,1341.9 1143.4,1341.0 1140.0,1335.9 1136.6,1329.0 1134.0,1322.1 1132.2,1315.2 1131.4,1311.7 1127.9,1305.7 1124.5,1301.4 1120.2,1299.7 1115.9,1291.9 1112.4,1285.9 1109.0,1284.1 1102.1,1287.6 1095.2,1292.8 1090.0,1299.7 1086.9,1308.3 1086.2,1316.9 1083.1,1322.9 1080.5,1320.3 1076.2,1311.7 1071.0,1299.7 1067.6,1291.0 1062.4,1286.7 1057.2,1284.1 1048.6,1277.2 1040.0,1274.7 1037.6,1278.2 1030.2,1275.8 1026.1,1272.4 1022.0,1273.8 1016.6,1271.7 1012.6,1267.0 1009.2,1262.9 1005.8,1263.6 1008.5,1266.0 1011.9,1270.6 1015.3,1275.8 1019.3,1278.8 1022.0,1277.4 1024.7,1278.8 1027.5,1276.1 1031.5,1279.8 1034.9,1284.6 1032.9,1288.0 1028.8,1294.7 1020.7,1300.2 1012.6,1304.2 1004.4,1308.3 997.7,1311.0 996.3,1306.9 992.2,1298.8 988.2,1290.7 984.1,1282.6 980.0,1274.4 976.0,1266.3 973.5,1261.6 974.0,1255.5 974.6,1250.0 972.6,1246.7 967.9,1246.0 962.4,1245.3 957.0,1244.6 953.0,1240.6 951.6,1235.1" fill="#cd9b33" stroke="#cd9b33" stroke-width="0.6" stroke-linejoin="round"/>
<polygon points="1177.1,1327.2 1182.2,1330.7 1180.5,1337.6 1182.2,1342.8 1177.9,1347.9 1176.2,1355.7 1169.3,1356.6 1163.3,1354.0 1159.8,1347.9 1159.0,1342.8 1164.1,1340.2 1168.4,1335.9 1172.8,1331.6" fill="#cd9b33" stroke="#cd9b33" stroke-width="0.6" stroke-linejoin="round"/>
<polygon points="1125.3,1331.6 1129.7,1331.6 1135.7,1337.6 1141.7,1343.6 1146.9,1350.5 1150.3,1356.6 1150.3,1361.7 1146.0,1360.0 1140.9,1354.0 1135.7,1346.2 1130.5,1339.3 1126.2,1334.1" fill="#cd9b33" stroke="#cd9b33" stroke-width="0.6" stroke-linejoin="round"/>
<polygon points="1150.3,1363.4 1157.2,1364.3 1165.9,1366.0 1173.6,1368.6 1172.8,1370.3 1164.1,1369.5 1155.5,1367.8 1150.3,1365.5" fill="#cd9b33" stroke="#cd9b33" stroke-width="0.6" stroke-linejoin="round"/>
<polygon points="1177.9,1370.3 1183.1,1369.5 1190.0,1369.0 1191.7,1370.3 1184.8,1371.7 1178.8,1372.1" fill="#cd9b33" stroke="#cd9b33" stroke-width="0.6" stroke-linejoin="round"/>
<polygon points="1186.6,1344.5 1191.7,1342.8 1197.8,1341.9 1196.0,1344.5 1190.9,1346.2 1192.6,1351.4 1190.0,1356.6 1191.7,1360.9 1189.1,1360.0 1187.4,1354.8 1185.7,1360.0 1184.0,1360.9 1184.0,1354.0 1184.8,1348.8" fill="#cd9b33" stroke="#cd9b33" stroke-width="0.6" stroke-linejoin="round"/>
<polygon points="1183.1,1295.3 1186.6,1295.3 1187.4,1300.5 1190.0,1305.7 1193.4,1309.1 1190.9,1310.0 1186.6,1306.6 1184.0,1301.4" fill="#cd9b33" stroke="#cd9b33" stroke-width="0.6" stroke-linejoin="round"/>
<polygon points="1190.0,1313.4 1194.3,1312.6 1196.9,1316.9 1194.3,1319.5 1191.7,1316.9" fill="#cd9b33" stroke="#cd9b33" stroke-width="0.6" stroke-linejoin="round"/>
<polygon points="1191.7,1323.8 1198.6,1320.3 1201.2,1325.5 1198.6,1329.8 1196.0,1326.4 1192.6,1327.2" fill="#cd9b33" stroke="#cd9b33" stroke-width="0.6" stroke-linejoin="round"/>
<polygon points="1177.9,1319.5 1183.1,1314.3 1184.0,1315.5 1179.3,1320.7" fill="#cd9b33" stroke="#cd9b33" stroke-width="0.6" stroke-linejoin="round"/>
<polygon points="1204.7,1341.0 1206.4,1341.9 1206.4,1346.2 1204.7,1345.3" fill="#cd9b33" stroke="#cd9b33" stroke-width="0.6" stroke-linejoin="round"/>
<polygon points="1180.0,1277.2 1182.2,1276.4 1181.7,1282.4 1180.0,1284.1 1179.0,1280.7" fill="#cd9b33" stroke="#cd9b33" stroke-width="0.6" stroke-linejoin="round"/>
<polygon points="1152.9,1291.9 1157.2,1291.0 1158.1,1293.6 1154.7,1295.3" fill="#cd9b33" stroke="#cd9b33" stroke-width="0.6" stroke-linejoin="round"/>
<polygon points="1087.4,1319.5 1090.9,1322.9 1091.4,1327.2 1088.8,1329.0 1086.6,1324.7" fill="#cd9b33" stroke="#cd9b33" stroke-width="0.6" stroke-linejoin="round"/>
<polygon points="1212.4,1348.8 1217.6,1347.9 1221.0,1351.4 1225.3,1354.0 1229.7,1351.4 1236.6,1354.0 1236.6,1371.2 1232.2,1368.6 1227.9,1369.5 1229.7,1365.2 1225.3,1361.7 1221.0,1357.4 1215.9,1354.0 1213.3,1351.4" fill="#cd9b33" stroke="#cd9b33" stroke-width="0.6" stroke-linejoin="round"/>
<polygon points="1200.3,1354.5 1205.5,1353.4 1209.8,1354.8 1205.5,1355.9 1201.2,1355.9" fill="#cd9b33" stroke="#cd9b33" stroke-width="0.6" stroke-linejoin="round"/>
<polygon points="1220.2,1360.9 1221.4,1361.4 1221.0,1364.3 1219.8,1363.4" fill="#cd9b33" stroke="#cd9b33" stroke-width="0.6" stroke-linejoin="round"/>
<polygon points="1203.4,1221.4 1209.3,1223.1 1214.5,1224.1 1211.7,1229.7 1205.9,1231.4 1202.8,1227.6" fill="#cd9b33" stroke="#cd9b33" stroke-width="0.6" stroke-linejoin="round"/>
<polygon points="1207.2,1231.2 1213.1,1235.0 1216.2,1242.8 1214.8,1249.0 1208.6,1252.8 1203.4,1254.5 1198.3,1258.3 1193.1,1256.2 1197.2,1249.7 1203.4,1246.6 1207.6,1242.8 1206.7,1237.2" fill="#cd9b33" stroke="#cd9b33" stroke-width="0.6" stroke-linejoin="round"/>
<polygon points="1192.9,1253.1 1197.2,1257.4 1195.5,1260.0 1192.9,1256.6" fill="#cd9b33" stroke="#cd9b33" stroke-width="0.6" stroke-linejoin="round"/>
<polygon points="946.9,1157.3 950.2,1157.9 957.0,1159.3 963.8,1162.0 966.5,1164.7 965.1,1167.4 961.1,1168.8 957.0,1166.7 958.4,1170.1 962.4,1171.5 966.5,1168.8 970.6,1164.7 972.6,1161.3 977.3,1163.3 982.8,1160.6 988.2,1159.3 993.6,1158.6 999.0,1157.9 1004.4,1159.3 1008.5,1155.2 1007.8,1151.8 1012.6,1151.2 1015.9,1153.9 1018.7,1157.9 1022.0,1162.0 1024.7,1164.7 1026.1,1160.6 1023.4,1155.2 1020.7,1152.5 1026.6,1151.4 1033.4,1147.9 1040.3,1145.3 1049.0,1143.6 1056.7,1141.0 1062.8,1141.9 1071.4,1143.6 1077.4,1145.3 1076.6,1147.9 1085.2,1149.7 1093.8,1150.5 1100.7,1149.7 1109.3,1151.4 1117.9,1154.0 1126.6,1154.8 1130.0,1152.2 1135.2,1151.4 1143.8,1153.1 1152.4,1154.0 1161.0,1155.7 1169.7,1157.4 1178.3,1159.1 1186.9,1158.3 1195.5,1158.3 1204.1,1159.1 1212.8,1158.3 1221.4,1157.4 1230.0,1156.2 1230.9,1160.9 1228.3,1165.2 1224.8,1168.6 1229.1,1172.1 1234.3,1175.2 1228.3,1176.4 1224.8,1180.7 1218.8,1179.0 1222.2,1184.1 1225.2,1190.2 1226.6,1197.1 1223.8,1204.8 1218.8,1201.7 1213.1,1194.8 1208.6,1188.4 1205.9,1183.8 1207.2,1180.3 1204.1,1178.1 1199.0,1178.1 1195.5,1180.7 1193.8,1184.1 1186.9,1182.4 1180.0,1184.1 1173.1,1185.9 1170.5,1191.0 1169.7,1195.3 1174.8,1196.2 1180.0,1197.9 1185.2,1199.7 1189.5,1204.0 1192.9,1210.0 1193.8,1216.9 1191.2,1223.8 1187.8,1227.2 1183.4,1225.5 1182.6,1220.3 1180.9,1215.2 1178.3,1211.7 1173.1,1208.3 1166.2,1205.7 1159.3,1203.1 1152.4,1200.5 1147.2,1199.7 1143.8,1204.0 1142.1,1208.3 1133.4,1209.1 1126.6,1210.0 1117.9,1207.4 1109.3,1205.7 1102.4,1204.0 1099.0,1205.7 1090.3,1207.4 1083.4,1209.1 1077.4,1213.4 1074.0,1216.9 1071.4,1222.1 1070.5,1227.2 1066.2,1230.7 1062.8,1235.9 1061.0,1241.0 1055.9,1242.8 1049.0,1241.9 1043.8,1243.6 1037.8,1246.2 1033.4,1247.9 1030.0,1244.5 1023.1,1241.9 1014.5,1242.8 1012.8,1237.6 1010.2,1230.7 1006.7,1223.8 1007.6,1218.6 1004.1,1216.9 999.0,1218.6 995.5,1223.8 999.0,1229.0 1001.6,1234.1 1002.4,1238.4 1002.4,1241.0 997.2,1238.4 992.1,1234.1 988.6,1230.7 983.4,1227.2 980.0,1225.9 980.0,1225.7 976.0,1223.0 974.0,1220.9 976.7,1214.8 977.3,1210.8 974.6,1208.7 969.2,1206.7 964.5,1204.7 962.4,1202.0 958.4,1202.6 953.0,1202.9 947.5,1203.3 942.1,1204.0 941.0,1199.9 943.5,1197.9 947.3,1193.8 947.8,1190.4 946.9,1186.4 947.5,1183.0 949.6,1179.6 951.3,1174.9 950.2,1170.1 947.5,1164.7 944.8,1160.0" fill="#b52323" stroke="#b52323" stroke-width="0.6" stroke-linejoin="round"/>
<polygon points="932.6,1194.9 938.1,1194.8 938.3,1196.7 932.9,1196.7" fill="#b52323" stroke="#b52323" stroke-width="0.6" stroke-linejoin="round"/>
<polygon points="1185.2,1197.9 1189.5,1201.4 1195.5,1208.3 1201.6,1214.3 1204.1,1217.8 1199.8,1216.0 1194.7,1210.9 1189.5,1204.8 1186.0,1200.5" fill="#b52323" stroke="#b52323" stroke-width="0.6" stroke-linejoin="round"/>
<polygon points="981.7,1152.2 984.3,1147.9 990.3,1144.5 997.2,1142.8 1001.6,1142.8 994.7,1146.2 989.5,1149.7 987.8,1154.0 989.5,1156.6 985.2,1155.7" fill="#b52323" stroke="#b52323" stroke-width="0.6" stroke-linejoin="round"/>
<polygon points="1030.9,1135.5 1036.9,1134.5 1045.5,1136.7 1054.1,1138.4 1049.0,1140.2 1040.3,1139.0 1033.4,1137.2" fill="#b52323" stroke="#b52323" stroke-width="0.6" stroke-linejoin="round"/>
<polygon points="1114.5,1144.5 1121.4,1144.1 1130.0,1146.2 1126.6,1147.6 1117.9,1146.6" fill="#b52323" stroke="#b52323" stroke-width="0.6" stroke-linejoin="round"/>
<polygon points="1130.9,1145.3 1137.8,1145.9 1135.2,1147.1" fill="#b52323" stroke="#b52323" stroke-width="0.6" stroke-linejoin="round"/>
<polygon points="996.4,1221.2 1002.4,1217.2 1007.2,1219.5 1006.2,1224.1 1009.7,1230.7 1012.8,1238.4 1014.5,1243.1 1009.7,1244.5 1004.5,1242.8 1002.8,1237.9 999.3,1230.7 995.9,1225.2" fill="#fff" stroke="#fff" stroke-width="0.6" stroke-linejoin="round"/>
<polygon points="959.7,1135.2 965.1,1134.6 969.2,1135.2 964.5,1136.5" fill="#b52323" stroke="#b52323" stroke-width="0.6" stroke-linejoin="round"/>
<polygon points="942.1,1204.0 947.5,1203.3 953.0,1202.9 958.4,1202.6 962.4,1202.0 964.5,1204.7 969.2,1206.7 974.6,1208.7 977.3,1210.8 976.7,1214.8 972.6,1216.9 969.2,1218.9 971.2,1221.6 967.9,1223.6 964.5,1221.6 965.1,1218.9 960.4,1218.2 957.0,1220.9 954.3,1220.9 953.6,1216.9 950.9,1214.1 944.8,1213.5 940.1,1212.8 939.7,1209.4" fill="#ffe840" stroke="#ffe840" stroke-width="0.6" stroke-linejoin="round"/>
<polygon points="1213.3,1378.1 1219.3,1379.0 1223.6,1380.7 1222.8,1385.9 1227.1,1391.0 1232.2,1394.5 1235.7,1388.4 1237.4,1380.7 1239.1,1376.4 1240.9,1380.7 1242.6,1387.6 1245.2,1394.5 1248.6,1401.4 1252.1,1408.3 1254.7,1415.2 1253.8,1423.8 1249.5,1432.4 1244.3,1439.3 1238.3,1446.2 1231.4,1449.7 1224.5,1453.1 1219.3,1452.2 1214.1,1450.5 1210.7,1446.2 1209.8,1441.0 1205.5,1442.8 1208.1,1437.6 1202.1,1435.9 1195.2,1435.0 1188.3,1435.9 1181.4,1437.6 1174.5,1440.2 1167.6,1441.9 1160.7,1442.8 1158.1,1440.2 1160.7,1434.1 1162.4,1425.5 1161.6,1416.9 1163.3,1410.0 1167.6,1405.7 1176.2,1402.2 1183.1,1399.7 1188.3,1394.5 1191.7,1390.2 1196.9,1386.7 1203.8,1383.3 1209.0,1380.7" fill="#9b55d8" stroke="#9b55d8" stroke-width="0.6" stroke-linejoin="round"/>
<polygon points="1216.7,1459.1 1224.5,1458.3 1222.8,1462.6 1218.4,1466.0 1215.0,1465.2" fill="#9b55d8" stroke="#9b55d8" stroke-width="0.6" stroke-linejoin="round"/>
<polygon points="1290.9,1441.0 1293.4,1446.2 1298.6,1449.7 1293.4,1453.1 1288.3,1458.3 1284.8,1460.0 1286.6,1454.8 1290.9,1449.7 1290.0,1444.5" fill="#9b55d8" stroke="#9b55d8" stroke-width="0.6" stroke-linejoin="round"/>
<polygon points="1281.4,1458.3 1284.0,1460.9 1276.2,1466.0 1267.6,1471.2 1259.0,1474.7 1255.5,1472.9 1264.1,1467.8 1272.8,1462.6" fill="#9b55d8" stroke="#9b55d8" stroke-width="0.6" stroke-linejoin="round"/>
<polygon points="1236.6,1354.0 1242.6,1355.7 1248.6,1360.0 1252.1,1365.2 1255.5,1370.3 1259.0,1374.7 1254.7,1373.8 1248.6,1369.5 1242.6,1370.3 1236.6,1371.2" fill="#9b55d8" stroke="#9b55d8" stroke-width="0.6" stroke-linejoin="round"/>
<polygon points="1254.7,1361.7 1260.7,1360.0 1265.0,1356.6 1263.3,1354.0 1265.9,1355.7 1264.1,1360.0 1257.2,1363.4" fill="#9b55d8" stroke="#9b55d8" stroke-width="0.6" stroke-linejoin="round"/>
<polygon points="1270.2,1360.9 1273.6,1364.3 1272.8,1364.8 1269.7,1361.7" fill="#9b55d8" stroke="#9b55d8" stroke-width="0.6" stroke-linejoin="round"/>
<polygon points="1276.2,1366.0 1280.5,1368.6 1280.0,1369.3 1275.9,1366.9" fill="#9b55d8" stroke="#9b55d8" stroke-width="0.6" stroke-linejoin="round"/>
<polygon points="1282.2,1370.3 1286.6,1374.7 1285.9,1375.2 1281.7,1371.2" fill="#9b55d8" stroke="#9b55d8" stroke-width="0.6" stroke-linejoin="round"/>
<polygon points="1296.0,1386.7 1297.2,1391.0 1296.6,1391.2 1295.5,1387.1" fill="#9b55d8" stroke="#9b55d8" stroke-width="0.6" stroke-linejoin="round"/>
<polygon points="1286.9,1402.2 1291.7,1407.4 1290.3,1407.9 1286.2,1403.4" fill="#9b55d8" stroke="#9b55d8" stroke-width="0.6" stroke-linejoin="round"/>
<polygon points="1196.0,1370.3 1202.1,1368.6 1202.9,1370.0 1195.2,1372.9" fill="#9b55d8" stroke="#9b55d8" stroke-width="0.6" stroke-linejoin="round"/>
<circle cx="397.7" cy="1169.6" r="43.4" fill="url(#pgeu)" stroke="#d2cfce" stroke-width="4"/>
<path d="M397.2,1168.6 L342.2,1188.0 A58.3,58.3 0 0 1 407.6,1111.2 Z" fill="#fff" fill-opacity="0.52" stroke="#1560b3" stroke-width="1.7" stroke-linejoin="miter"/>
<text x="380.1" y="1193.2" font-size="18.6" fill="#fff" font-weight="bold" textLength="30.2" lengthAdjust="spacing">34,5</text>
<text x="409.7" y="1186.9" font-size="10" fill="#fff" font-weight="bold" textLength="7.6" lengthAdjust="spacingAndGlyphs">%</text>
<circle cx="490.5" cy="1295.2" r="43.4" fill="url(#pgam)" stroke="#bcc0c6" stroke-width="4"/>
<path d="M489.8,1294.5 L440.2,1264.5 A58.0,58.0 0 0 1 445.3,1257.3 Z" fill="#fff" fill-opacity="0.52" stroke="#a8703f" stroke-width="1.7" stroke-linejoin="miter"/>
<text x="477.8" y="1317.8" font-size="18.6" fill="#fff" font-weight="bold" textLength="25.1" lengthAdjust="spacing">2,1</text>
<text x="504.0" y="1311.5" font-size="10" fill="#fff" font-weight="bold" textLength="7.6" lengthAdjust="spacingAndGlyphs">%</text>
<circle cx="397.4" cy="1412.9" r="43.4" fill="url(#pgaf)" stroke="#bdbdbd" stroke-width="4"/>
<path d="M396.6,1411.2 L343.1,1385.1 A59.5,59.5 0 0 1 369.6,1358.2 Z" fill="#fff" fill-opacity="0.52" stroke="#5a5a5a" stroke-width="1.7" stroke-linejoin="miter"/>
<text x="379.8" y="1435.3" font-size="18.6" fill="#fff" font-weight="bold" textLength="25.9" lengthAdjust="spacing">9,9</text>
<text x="405.2" y="1429.0" font-size="10" fill="#fff" font-weight="bold" textLength="7.6" lengthAdjust="spacingAndGlyphs">%</text>
<circle cx="1455.1" cy="1169.6" r="43.4" fill="url(#pgcis)" stroke="#cbcdcf" stroke-width="4"/>
<path d="M1455.9,1168.6 L1488.6,1121.3 A57.5,57.5 0 0 1 1510.1,1187.9 Z" fill="#fff" fill-opacity="0.52" stroke="#b5202a" stroke-width="1.7" stroke-linejoin="miter"/>
<text x="1435.8" y="1192.3" font-size="18.6" fill="#fff" font-weight="bold" textLength="30.6" lengthAdjust="spacing">20,6</text>
<text x="1465.4" y="1186.0" font-size="10" fill="#fff" font-weight="bold" textLength="7.6" lengthAdjust="spacingAndGlyphs">%</text>
<circle cx="1363.4" cy="1295" r="43.4" fill="url(#pgas)" stroke="#c8cbce" stroke-width="4"/>
<path d="M1362.5,1294.0 L1354.3,1236.6 A58.0,58.0 0 0 1 1415.9,1316.7 Z" fill="#fff" fill-opacity="0.52" stroke="#c99a35" stroke-width="1.7" stroke-linejoin="miter"/>
<text x="1344.0" y="1318.1" font-size="18.6" fill="#fff" font-weight="bold" textLength="28.5" lengthAdjust="spacing">32,7</text>
<text x="1374.4" y="1311.8" font-size="10" fill="#fff" font-weight="bold" textLength="7.6" lengthAdjust="spacingAndGlyphs">%</text>
<circle cx="1455.1" cy="1413.1" r="43.4" fill="url(#pgau)" stroke="#c6c8c6" stroke-width="4"/>
<path d="M1455.1,1412.1 L1507.7,1386.1 A58.7,58.7 0 0 1 1509.7,1390.6 Z" fill="#fff" fill-opacity="0.52" stroke="#652d90" stroke-width="1.7" stroke-linejoin="miter"/>
<text x="1435.8" y="1434.1" font-size="18.6" fill="#fff" font-weight="bold" textLength="30.2" lengthAdjust="spacing">0,03</text>
<text x="1465.0" y="1427.8" font-size="10" fill="#fff" font-weight="bold" textLength="7.6" lengthAdjust="spacingAndGlyphs">%</text>
<text x="230.3" y="1140.6" font-size="21" fill="#1560b3" font-weight="bold" textLength="77.0" lengthAdjust="spacing">Європа</text>
<text x="230.3" y="1160.0" font-size="15.5" fill="#1560b3" font-weight="bold" textLength="69.0" lengthAdjust="spacing">$ 11 899,2</text>
<text x="300.0" y="1154.0" font-size="8.6" fill="#1560b3" font-weight="bold">млн</text>
<rect x="230.3" y="1171.3" width="92.4" height="2" fill="#1560b3"/>
<circle cx="270.4" cy="1188.6" r="9.9" fill="none" stroke="#1560b3" stroke-width="2.3"/>
<path d="M270.4,1182.6 v10.5 M265.2,1188.3 l5.2,5.6 l5.2,-5.6" fill="none" stroke="#1560b3" stroke-width="3.1" stroke-linejoin="miter"/>
<text x="285.6" y="1190.8" font-size="13" fill="#1560b3" font-weight="bold" textLength="32.0" lengthAdjust="spacing">- 24,7</text>
<text x="316.4" y="1186.3" font-size="6.8" fill="#1560b3">%</text>
<text x="330.9" y="1281.0" font-size="21" fill="#c79a63" font-weight="bold" textLength="89.0" lengthAdjust="spacing">Америка</text>
<text x="330.9" y="1300.5" font-size="15.5" fill="#c79a63" font-weight="bold" textLength="49.0" lengthAdjust="spacing">$ 722,4</text>
<text x="381.0" y="1294.5" font-size="8.6" fill="#c79a63" font-weight="bold">млн</text>
<rect x="330.9" y="1312.0" width="91.8" height="2" fill="#c79a63"/>
<circle cx="370" cy="1329.6" r="9.9" fill="none" stroke="#c79a63" stroke-width="2.3"/>
<path d="M370,1323.6 v10.5 M364.8,1329.3 l5.2,5.6 l5.2,-5.6" fill="none" stroke="#c79a63" stroke-width="3.1" stroke-linejoin="miter"/>
<text x="385.2" y="1331.6" font-size="13" fill="#c79a63" font-weight="bold" textLength="32.0" lengthAdjust="spacing">- 42,9</text>
<text x="416.0" y="1327.1" font-size="6.8" fill="#c79a63">%</text>
<text x="251.0" y="1381.8" font-size="21" fill="#5a5a5a" font-weight="bold" textLength="80.0" lengthAdjust="spacing">Африка</text>
<text x="251.0" y="1401.5" font-size="15.5" fill="#5a5a5a" font-weight="bold" textLength="61.0" lengthAdjust="spacing">$ 3 408,1</text>
<text x="313.0" y="1395.5" font-size="8.6" fill="#5a5a5a" font-weight="bold">млн</text>
<rect x="251" y="1412.5" width="92.0" height="2.5" fill="#5a5a5a"/>
<circle cx="291" cy="1430.3" r="9.9" fill="none" stroke="#5a5a5a" stroke-width="2.3"/>
<path d="M291,1424.3 v10.5 M285.8,1430.0 l5.2,5.6 l5.2,-5.6" fill="none" stroke="#5a5a5a" stroke-width="3.1" stroke-linejoin="miter"/>
<text x="306.2" y="1432.4" font-size="13" fill="#5a5a5a" font-weight="bold" textLength="32.0" lengthAdjust="spacing">- 26,7</text>
<text x="337.0" y="1427.9" font-size="6.8" fill="#5a5a5a">%</text>
<text x="1525.2" y="1138.0" font-size="22.5" fill="#b5202a" font-weight="bold" textLength="46.5" lengthAdjust="spacing">СНД</text>
<text x="1525.2" y="1157.4" font-size="15.5" fill="#b5202a" font-weight="bold" textLength="61.5" lengthAdjust="spacing">$ 7 113,3</text>
<text x="1586.0" y="1151.4" font-size="8.6" fill="#b5202a" font-weight="bold">млн</text>
<rect x="1525.2" y="1168.0" width="91.6" height="2" fill="#b5202a"/>
<circle cx="1564.5" cy="1185.8999999999999" r="9.9" fill="none" stroke="#b5202a" stroke-width="2.3"/>
<path d="M1564.5,1179.8999999999999 v10.5 M1559.3,1185.6 l5.2,5.6 l5.2,-5.6" fill="none" stroke="#b5202a" stroke-width="3.1" stroke-linejoin="miter"/>
<text x="1579.7" y="1188.0" font-size="13" fill="#b5202a" font-weight="bold" textLength="32.0" lengthAdjust="spacing">- 49,5</text>
<text x="1610.5" y="1183.5" font-size="6.8" fill="#b5202a">%</text>
<text x="1435.0" y="1263.0" font-size="22.5" fill="#c99a35" font-weight="bold" textLength="45.0" lengthAdjust="spacing">Азія</text>
<text x="1435.0" y="1282.9" font-size="15.5" fill="#c99a35" font-weight="bold" textLength="70.5" lengthAdjust="spacing">$ 11 282,4</text>
<text x="1505.0" y="1276.9" font-size="8.6" fill="#c99a35" font-weight="bold">млн</text>
<rect x="1435" y="1293.5" width="92.4" height="2" fill="#c99a35"/>
<circle cx="1475.6" cy="1310.6" r="9.9" fill="none" stroke="#c99a35" stroke-width="2.3"/>
<path d="M1475.6,1304.6 v10.5 M1470.3999999999999,1310.3 l5.2,5.6 l5.2,-5.6" fill="none" stroke="#c99a35" stroke-width="3.1" stroke-linejoin="miter"/>
<text x="1490.8" y="1313.0" font-size="13" fill="#c99a35" font-weight="bold" textLength="32.0" lengthAdjust="spacing">- 19,8</text>
<text x="1521.6" y="1308.5" font-size="6.8" fill="#c99a35">%</text>
<text x="1516.3" y="1377.7" font-size="17.5" fill="#652d90" font-weight="bold" textLength="174.0" lengthAdjust="spacing">Австралія і Океанія</text>
<text x="1516.3" y="1398.0" font-size="15.5" fill="#652d90" font-weight="bold" textLength="39.0" lengthAdjust="spacing">$ 11,7</text>
<text x="1556.0" y="1392.0" font-size="8.6" fill="#652d90" font-weight="bold">млн</text>
<rect x="1516.3" y="1409.8" width="173.7" height="2" fill="#652d90"/>
<circle cx="1635.5" cy="1428.3999999999999" r="9.9" fill="none" stroke="#652d90" stroke-width="2.3"/>
<path d="M1635.5,1422.3999999999999 v10.5 M1630.3,1428.1 l5.2,5.6 l5.2,-5.6" fill="none" stroke="#652d90" stroke-width="3.1" stroke-linejoin="miter"/>
<text x="1650.7" y="1431.0" font-size="13" fill="#652d90" font-weight="bold" textLength="32.0" lengthAdjust="spacing">- 47,2</text>
<text x="1681.5" y="1426.5" font-size="6.8" fill="#652d90">%</text>
<polyline points="449.8,1165.8 783.5,1165.8 902.0,1211.0" fill="none" stroke="#5b9bd0" stroke-width="1.3"/>
<circle cx="905.4" cy="1212.4" r="4" fill="none" stroke="#5b9bd0" stroke-width="1.2"/>
<polyline points="540.0,1297.8 582.0,1320.3 684.0,1320.3" fill="none" stroke="#a0714a" stroke-width="1.3"/>
<circle cx="687.9" cy="1320.3" r="4" fill="none" stroke="#a0714a" stroke-width="1.2"/>
<polyline points="453.3,1409.7 784.9,1409.7 940.5,1327.2" fill="none" stroke="#555" stroke-width="1.3"/>
<circle cx="943.9" cy="1325.4" r="4" fill="none" stroke="#555" stroke-width="1.2"/>
<polyline points="1409.5,1141.5 1160.0,1141.5 1058.5,1185.0" fill="none" stroke="#d9534f" stroke-width="1.3"/>
<circle cx="1054.8" cy="1186.7" r="4" fill="none" stroke="#d9534f" stroke-width="1.2"/>
<polyline points="1309.0,1294.5 1159.0,1294.5 1095.5,1259.0" fill="none" stroke="#8a5a3a" stroke-width="1.3"/>
<circle cx="1092.0" cy="1257.0" r="4" fill="none" stroke="#8a5a3a" stroke-width="1.2"/>
<polyline points="1406.5,1439.2 1268.9,1439.2 1215.0,1414.2" fill="none" stroke="#7a3aa8" stroke-width="1.3"/>
<circle cx="1211.4" cy="1412.4" r="4" fill="none" stroke="#7a3aa8" stroke-width="1.2"/>
<rect x="776.2" y="1554.5" width="2.4" height="898" fill="#c9a257"/>
<rect x="1048" y="1555.5" width="2.4" height="898.5" fill="#6a9fc8"/>
<rect x="200.1" y="1596.2" width="570.3" height="29.2" fill="#cb9a36"/>
<text x="770.0" y="1585.5" font-size="12.2" fill="#8a7058" text-anchor="end" letter-spacing="1.22">Російська Федерація</text>
<text x="196.9" y="1619.1" font-size="27.6" fill="#1a63b5" font-weight="bold" text-anchor="end" textLength="99.7" lengthAdjust="spacingAndGlyphs">- 4 986,2</text>
<g transform="translate(804.80,1566.50) scale(0.9567,0.9667)"><g clip-path="url(#cr)"><use href="#f-ru" transform="translate(30,30) scale(1.1) translate(-30,-30)"/></g><rect x="0.600" y="0.600" width="58.800" height="58.800" rx="12.500" fill="none" stroke="#c9993a" stroke-width="1.900"/></g>
<rect x="301.6" y="1656.6" width="468.8" height="29.2" fill="#cb9a36"/>
<text x="770.0" y="1646.9" font-size="12.2" fill="#8a7058" text-anchor="end" letter-spacing="1.22">ЄС (28)</text>
<text x="298.4" y="1679.5" font-size="27.6" fill="#1a63b5" font-weight="bold" text-anchor="end" textLength="99.7" lengthAdjust="spacingAndGlyphs">- 4 099,2</text>
<g transform="translate(804.80,1629.00) scale(0.9567,0.9600)"><g clip-path="url(#cr)"><use href="#f-eu" transform="translate(30,30) scale(1.0) translate(-30,-30)"/></g><rect x="0.600" y="0.600" width="58.800" height="58.800" rx="12.500" fill="none" stroke="#c9993a" stroke-width="1.900"/></g>
<rect x="684.7" y="1715.9" width="85.7" height="29.2" fill="#cb9a36"/>
<text x="770.0" y="1706.6" font-size="12.2" fill="#8a7058" text-anchor="end" letter-spacing="1.22">Туреччина</text>
<text x="681.5" y="1738.8" font-size="27.6" fill="#1a63b5" font-weight="bold" text-anchor="end" textLength="78.6" lengthAdjust="spacingAndGlyphs">- 746,9</text>
<g transform="translate(804.80,1690.70) scale(0.9567,0.9250)"><g clip-path="url(#cr)"><use href="#f-tr" transform="translate(30,30) scale(1.1) translate(-30,-30)"/></g><rect x="0.600" y="0.600" width="58.800" height="58.800" rx="12.500" fill="none" stroke="#c9993a" stroke-width="1.900"/></g>
<rect x="686.8" y="1773.4" width="83.6" height="29.2" fill="#cb9a36"/>
<text x="770.0" y="1761.7" font-size="12.2" fill="#8a7058" text-anchor="end" letter-spacing="1.22">Білорусь</text>
<text x="683.6" y="1796.3" font-size="27.6" fill="#1a63b5" font-weight="bold" text-anchor="end" textLength="78.6" lengthAdjust="spacingAndGlyphs">- 727,7</text>
<g transform="translate(804.80,1749.30) scale(0.9567,0.9367)"><g clip-path="url(#cr)"><use href="#f-by" transform="translate(30,30) scale(1.0) translate(-30,-30)"/></g><rect x="0.600" y="0.600" width="58.800" height="58.800" rx="12.500" fill="none" stroke="#c9993a" stroke-width="1.900"/></g>
<rect x="691.6" y="1832.4" width="78.8" height="29.2" fill="#cb9a36"/>
<text x="770.0" y="1822.0" font-size="12.2" fill="#8a7058" text-anchor="end" letter-spacing="1.22">Єгипет</text>
<text x="688.4" y="1855.3" font-size="27.6" fill="#1a63b5" font-weight="bold" text-anchor="end" textLength="78.6" lengthAdjust="spacingAndGlyphs">- 688,7</text>
<g transform="translate(804.80,1811.70) scale(0.9567,0.9433)"><g clip-path="url(#cr)"><use href="#f-eg" transform="translate(30,30) scale(1.1) translate(-30,-30)"/></g><rect x="0.600" y="0.600" width="58.800" height="58.800" rx="12.500" fill="none" stroke="#c9993a" stroke-width="1.900"/></g>
<rect x="722.0" y="1891.0" width="48.4" height="29.2" fill="#cb9a36"/>
<text x="770.0" y="1879.7" font-size="12.2" fill="#8a7058" text-anchor="end" letter-spacing="1.22">Індія</text>
<text x="718.8" y="1913.9" font-size="27.6" fill="#1a63b5" font-weight="bold" text-anchor="end" textLength="78.6" lengthAdjust="spacingAndGlyphs">- 423,0</text>
<g transform="translate(804.80,1871.00) scale(0.9567,0.8967)"><g clip-path="url(#cr)"><use href="#f-in" transform="translate(30,30) scale(1.1) translate(-30,-30)"/></g><rect x="0.600" y="0.600" width="58.800" height="58.800" rx="12.500" fill="none" stroke="#c9993a" stroke-width="1.900"/></g>
<rect x="730.3" y="1950.0" width="40.1" height="29.2" fill="#cb9a36"/>
<text x="770.0" y="1938.6" font-size="12.2" fill="#8a7058" text-anchor="end" letter-spacing="1.22">Казахстан</text>
<text x="727.1" y="1972.9" font-size="27.6" fill="#1a63b5" font-weight="bold" text-anchor="end" textLength="78.6" lengthAdjust="spacingAndGlyphs">- 351,0</text>
<g transform="translate(804.80,1929.30) scale(0.9567,0.8850)"><g clip-path="url(#cr)"><use href="#f-kz" transform="translate(30,30) scale(1.1) translate(-30,-30)"/></g><rect x="0.600" y="0.600" width="58.800" height="58.800" rx="12.500" fill="none" stroke="#c9993a" stroke-width="1.900"/></g>
<rect x="740.7" y="2009.3" width="29.7" height="29.2" fill="#cb9a36"/>
<text x="770.0" y="1999.7" font-size="12.2" fill="#8a7058" text-anchor="end" letter-spacing="1.22">Саудівська Аравія</text>
<text x="737.5" y="2032.2" font-size="27.6" fill="#1a63b5" font-weight="bold" text-anchor="end" textLength="78.6" lengthAdjust="spacingAndGlyphs">- 259,7</text>
<g transform="translate(804.80,1986.20) scale(0.9567,0.9017)"><g clip-path="url(#cr)"><use href="#f-sa" transform="translate(30,30) scale(1.1) translate(-30,-30)"/></g><rect x="0.600" y="0.600" width="58.800" height="58.800" rx="12.500" fill="none" stroke="#c9993a" stroke-width="1.900"/></g>
<rect x="741.1" y="2068.0" width="29.3" height="29.2" fill="#cb9a36"/>
<text x="770.0" y="2055.9" font-size="12.2" fill="#8a7058" text-anchor="end" letter-spacing="1.22">Пакистан</text>
<text x="737.9" y="2090.9" font-size="27.6" fill="#1a63b5" font-weight="bold" text-anchor="end" textLength="78.6" lengthAdjust="spacingAndGlyphs">- 255,8</text>
<g transform="translate(804.80,2044.50) scale(0.9567,0.8917)"><g clip-path="url(#cr)"><use href="#f-pk" transform="translate(30,30) scale(1.1) translate(-30,-30)"/></g><rect x="0.600" y="0.600" width="58.800" height="58.800" rx="12.500" fill="none" stroke="#c9993a" stroke-width="1.900"/></g>
<rect x="741.9" y="2126.9" width="28.5" height="29.2" fill="#cb9a36"/>
<text x="770.0" y="2117.0" font-size="12.2" fill="#8a7058" text-anchor="end" letter-spacing="1.22">Азербайджан</text>
<text x="738.7" y="2149.8" font-size="27.6" fill="#1a63b5" font-weight="bold" text-anchor="end" textLength="78.6" lengthAdjust="spacingAndGlyphs">- 249,6</text>
<g transform="translate(804.80,2102.40) scale(0.9567,0.9367)"><g clip-path="url(#cr)"><use href="#f-az" transform="translate(30,30) scale(1.1) translate(-30,-30)"/></g><rect x="0.600" y="0.600" width="58.800" height="58.800" rx="12.500" fill="none" stroke="#c9993a" stroke-width="1.900"/></g>
<rect x="745.4" y="2185.9" width="25.0" height="29.2" fill="#cb9a36"/>
<text x="770.0" y="2175.9" font-size="12.2" fill="#8a7058" text-anchor="end" letter-spacing="1.22">Туркменістан</text>
<text x="742.2" y="2208.8" font-size="27.6" fill="#1a63b5" font-weight="bold" text-anchor="end" textLength="78.6" lengthAdjust="spacingAndGlyphs">- 218,2</text>
<g transform="translate(804.80,2164.50) scale(0.9567,0.9200)"><g clip-path="url(#cr)"><use href="#f-tm" transform="translate(30,30) scale(1.1) translate(-30,-30)"/></g><rect x="0.600" y="0.600" width="58.800" height="58.800" rx="12.500" fill="none" stroke="#c9993a" stroke-width="1.900"/></g>
<rect x="746.6" y="2244.8" width="23.8" height="29.2" fill="#cb9a36"/>
<text x="770.0" y="2234.5" font-size="12.2" fill="#8a7058" text-anchor="end" letter-spacing="1.22">Молдова</text>
<text x="743.4" y="2267.7" font-size="27.6" fill="#1a63b5" font-weight="bold" text-anchor="end" textLength="78.6" lengthAdjust="spacingAndGlyphs">- 208,2</text>
<g transform="translate(804.80,2222.40) scale(0.9567,0.9200)"><g clip-path="url(#cr)"><use href="#f-md" transform="translate(30,30) scale(1.1) translate(-30,-30)"/></g><rect x="0.600" y="0.600" width="58.800" height="58.800" rx="12.500" fill="none" stroke="#c9993a" stroke-width="1.900"/></g>
<rect x="747.9" y="2302.8" width="22.5" height="29.2" fill="#cb9a36"/>
<text x="770.0" y="2293.0" font-size="12.2" fill="#8a7058" text-anchor="end" letter-spacing="1.22">Нігерія</text>
<text x="744.7" y="2325.7" font-size="27.6" fill="#1a63b5" font-weight="bold" text-anchor="end" textLength="78.6" lengthAdjust="spacingAndGlyphs">- 197,1</text>
<g transform="translate(804.80,2281.00) scale(0.9567,0.8633)"><g clip-path="url(#cr)"><use href="#f-ng" transform="translate(30,30) scale(1.1) translate(-30,-30)"/></g><rect x="0.600" y="0.600" width="58.800" height="58.800" rx="12.500" fill="none" stroke="#c9993a" stroke-width="1.900"/></g>
<rect x="747.9" y="2361.0" width="22.5" height="29.2" fill="#cb9a36"/>
<text x="770.0" y="2351.7" font-size="12.2" fill="#8a7058" text-anchor="end" letter-spacing="1.22">Ірак</text>
<text x="744.7" y="2383.9" font-size="27.6" fill="#1a63b5" font-weight="bold" text-anchor="end" textLength="78.6" lengthAdjust="spacingAndGlyphs">- 196,9</text>
<g transform="translate(804.80,2338.00) scale(0.9567,0.9300)"><g clip-path="url(#cr)"><use href="#f-iq" transform="translate(30,30) scale(1.1) translate(-30,-30)"/></g><rect x="0.600" y="0.600" width="58.800" height="58.800" rx="12.500" fill="none" stroke="#c9993a" stroke-width="1.900"/></g>
<rect x="748.2" y="2418.6" width="22.2" height="29.2" fill="#cb9a36"/>
<text x="770.0" y="2409.7" font-size="12.2" fill="#8a7058" text-anchor="end" letter-spacing="1.22">Йорданія</text>
<text x="745.0" y="2441.5" font-size="27.6" fill="#1a63b5" font-weight="bold" text-anchor="end" textLength="78.6" lengthAdjust="spacingAndGlyphs">- 194,1</text>
<g transform="translate(804.80,2397.20) scale(0.9567,0.9367)"><g clip-path="url(#cr)"><use href="#f-jo" transform="translate(30,30) scale(1.1) translate(-30,-30)"/></g><rect x="0.600" y="0.600" width="58.800" height="58.800" rx="12.500" fill="none" stroke="#c9993a" stroke-width="1.900"/></g>
<rect x="1053.8" y="1598.6" width="469.3" height="29.2" fill="#6599be"/>
<text x="1060.0" y="1586.6" font-size="12.2" fill="#1a63b5" letter-spacing="1.22">Таїланд</text>
<text x="1526.1" y="1623.0" font-size="27.6" fill="#1a63b5" font-weight="bold" textLength="77.9" lengthAdjust="spacingAndGlyphs">+134,1</text>
<g transform="translate(969.00,1561.40) scale(0.9567,0.9483)"><g clip-path="url(#cr)"><use href="#f-th" transform="translate(30,30) scale(1.0) translate(-30,-30)"/></g><rect x="0.600" y="0.600" width="58.800" height="58.800" rx="12.500" fill="none" stroke="#4f8fc6" stroke-width="1.900"/></g>
<rect x="1053.8" y="1658.3" width="190.0" height="29.2" fill="#6599be"/>
<text x="1054.0" y="1645.6" font-size="12.2" fill="#1a63b5" letter-spacing="1.22">Бангладеш</text>
<text x="1246.8" y="1682.7" font-size="27.6" fill="#1a63b5" font-weight="bold" textLength="63.9" lengthAdjust="spacingAndGlyphs">+54,3</text>
<g transform="translate(969.00,1622.80) scale(0.9567,0.9583)"><g clip-path="url(#cr)"><use href="#f-bd" transform="translate(30,30) scale(1.1) translate(-30,-30)"/></g><rect x="0.600" y="0.600" width="58.800" height="58.800" rx="12.500" fill="none" stroke="#4f8fc6" stroke-width="1.900"/></g>
<rect x="1053.8" y="1717.6" width="143.5" height="29.2" fill="#6599be"/>
<text x="1054.0" y="1704.5" font-size="12.2" fill="#1a63b5" letter-spacing="1.22">Філіппіни</text>
<text x="1200.3" y="1742.0" font-size="27.6" fill="#1a63b5" font-weight="bold" textLength="63.9" lengthAdjust="spacingAndGlyphs">+41,0</text>
<g transform="translate(969.00,1684.00) scale(0.9567,0.9617)"><g clip-path="url(#cr)"><use href="#f-ph" transform="translate(30,30) scale(1.1) translate(-30,-30)"/></g><rect x="0.600" y="0.600" width="58.800" height="58.800" rx="12.500" fill="none" stroke="#4f8fc6" stroke-width="1.900"/></g>
<rect x="1053.8" y="1775.0" width="140.3" height="29.2" fill="#6599be"/>
<text x="1054.0" y="1763.5" font-size="12.2" fill="#1a63b5" letter-spacing="1.22">Ліван</text>
<text x="1197.1" y="1799.4" font-size="27.6" fill="#1a63b5" font-weight="bold" textLength="63.9" lengthAdjust="spacingAndGlyphs">+40,1</text>
<g transform="translate(969.00,1745.00) scale(0.9567,0.9500)"><g clip-path="url(#cr)"><use href="#f-lb" transform="translate(30,30) scale(1.1) translate(-30,-30)"/></g><rect x="0.600" y="0.600" width="58.800" height="58.800" rx="12.500" fill="none" stroke="#4f8fc6" stroke-width="1.900"/></g>
<rect x="1053.8" y="1834.0" width="104.0" height="29.2" fill="#6599be"/>
<text x="1054.0" y="1822.4" font-size="12.2" fill="#1a63b5" letter-spacing="1.22">Малайзія</text>
<text x="1160.8" y="1858.4" font-size="27.6" fill="#1a63b5" font-weight="bold" textLength="63.9" lengthAdjust="spacingAndGlyphs">+29,7</text>
<g transform="translate(969.00,1805.50) scale(0.9567,0.9200)"><g clip-path="url(#cr)"><use href="#f-my" transform="translate(30,30) scale(1.1) translate(-30,-30)"/></g><rect x="0.600" y="0.600" width="58.800" height="58.800" rx="12.500" fill="none" stroke="#4f8fc6" stroke-width="1.900"/></g>
<rect x="1053.8" y="1892.0" width="87.1" height="29.2" fill="#6599be"/>
<text x="1054.0" y="1881.4" font-size="12.2" fill="#1a63b5" letter-spacing="1.22">КНДР</text>
<text x="1144.0" y="1916.4" font-size="27.6" fill="#1a63b5" font-weight="bold" textLength="63.9" lengthAdjust="spacingAndGlyphs">+24,9</text>
<g transform="translate(969.00,1863.40) scale(0.9567,0.9667)"><g clip-path="url(#cr)"><use href="#f-kp" transform="translate(30,30) scale(1.0) translate(-30,-30)"/></g><rect x="0.600" y="0.600" width="58.800" height="58.800" rx="12.500" fill="none" stroke="#4f8fc6" stroke-width="1.900"/></g>
<rect x="1053.8" y="1951.4" width="73.5" height="29.2" fill="#6599be"/>
<text x="1054.0" y="1940.4" font-size="12.2" fill="#1a63b5" letter-spacing="1.22">Японія</text>
<text x="1130.3" y="1975.8" font-size="27.6" fill="#1a63b5" font-weight="bold" textLength="63.9" lengthAdjust="spacingAndGlyphs">+21,0</text>
<g transform="translate(969.00,1924.80) scale(0.9567,0.9533)"><g clip-path="url(#cr)"><use href="#f-jp" transform="translate(30,30) scale(1.1) translate(-30,-30)"/></g><rect x="0.600" y="0.600" width="58.800" height="58.800" rx="12.500" fill="none" stroke="#4f8fc6" stroke-width="1.900"/></g>
<rect x="1053.8" y="2010.3" width="72.8" height="29.2" fill="#6599be"/>
<text x="1054.0" y="1999.3" font-size="12.2" fill="#1a63b5" letter-spacing="1.22">Південний Судан</text>
<text x="1129.6" y="2034.7" font-size="27.6" fill="#1a63b5" font-weight="bold" textLength="63.9" lengthAdjust="spacingAndGlyphs">+20,8</text>
<g transform="translate(969.00,1987.00) scale(0.9567,0.8883)"><g clip-path="url(#cr)"><use href="#f-ss" transform="translate(30,30) scale(1.1) translate(-30,-30)"/></g><rect x="0.600" y="0.600" width="58.800" height="58.800" rx="12.500" fill="none" stroke="#4f8fc6" stroke-width="1.900"/></g>
<rect x="1053.8" y="2069.7" width="46.9" height="29.2" fill="#6599be"/>
<text x="1054.0" y="2058.3" font-size="12.2" fill="#1a63b5" letter-spacing="1.22">Швейцарія</text>
<text x="1103.7" y="2094.1" font-size="27.6" fill="#1a63b5" font-weight="bold" textLength="63.9" lengthAdjust="spacingAndGlyphs">+13,4</text>
<g transform="translate(969.00,2044.80) scale(0.9567,0.8567)"><g clip-path="url(#cr)"><use href="#f-ch" transform="translate(30,30) scale(1.1) translate(-30,-30)"/></g><rect x="0.600" y="0.600" width="58.800" height="58.800" rx="12.500" fill="none" stroke="#4f8fc6" stroke-width="1.900"/></g>
<rect x="1053.8" y="2128.3" width="26.2" height="29.2" fill="#6599be"/>
<text x="1054.0" y="2117.2" font-size="12.2" fill="#1a63b5" letter-spacing="1.22">Танзанія</text>
<text x="1083.0" y="2152.7" font-size="27.6" fill="#1a63b5" font-weight="bold" textLength="49.9" lengthAdjust="spacingAndGlyphs">+7,5</text>
<g transform="translate(969.00,2100.00) scale(0.9567,0.9500)"><g clip-path="url(#cr)"><use href="#f-tz" transform="translate(30,30) scale(1.1) translate(-30,-30)"/></g><rect x="0.600" y="0.600" width="58.800" height="58.800" rx="12.500" fill="none" stroke="#4f8fc6" stroke-width="1.900"/></g>
<rect x="1053.8" y="2187.6" width="24.2" height="29.2" fill="#6599be"/>
<text x="1054.0" y="2176.2" font-size="12.2" fill="#1a63b5" letter-spacing="1.22">Коста-Ріка</text>
<text x="1081.0" y="2212.0" font-size="27.6" fill="#1a63b5" font-weight="bold" textLength="49.9" lengthAdjust="spacingAndGlyphs">+6,9</text>
<g transform="translate(969.00,2161.00) scale(0.9567,0.9200)"><g clip-path="url(#cr)"><use href="#f-cr" transform="translate(30,30) scale(1.0) translate(-30,-30)"/></g><rect x="0.600" y="0.600" width="58.800" height="58.800" rx="12.500" fill="none" stroke="#4f8fc6" stroke-width="1.900"/></g>
<rect x="1053.8" y="2246.6" width="22.1" height="29.2" fill="#6599be"/>
<text x="1054.0" y="2235.2" font-size="12.2" fill="#1a63b5" letter-spacing="1.22">Намібія</text>
<text x="1078.8" y="2271.0" font-size="27.6" fill="#1a63b5" font-weight="bold" textLength="49.9" lengthAdjust="spacingAndGlyphs">+6,3</text>
<g transform="translate(969.00,2219.70) scale(0.9567,0.9250)"><g clip-path="url(#cr)"><use href="#f-na" transform="translate(30,30) scale(1.1) translate(-30,-30)"/></g><rect x="0.600" y="0.600" width="58.800" height="58.800" rx="12.500" fill="none" stroke="#4f8fc6" stroke-width="1.900"/></g>
<rect x="1053.8" y="2304.5" width="15.0" height="29.2" fill="#6599be"/>
<text x="1054.0" y="2294.1" font-size="12.2" fill="#1a63b5" letter-spacing="1.22">Непал</text>
<text x="1071.8" y="2328.9" font-size="27.6" fill="#1a63b5" font-weight="bold" textLength="49.9" lengthAdjust="spacingAndGlyphs">+4,3</text>
<g transform="translate(969.00,2280.00) scale(0.9567,0.8967)"><g clip-path="url(#cr)"><use href="#f-np" transform="translate(30,30) scale(1.0) translate(-30,-30)"/></g><rect x="0.600" y="0.600" width="58.800" height="58.800" rx="12.500" fill="none" stroke="#4f8fc6" stroke-width="1.900"/></g>
<rect x="1053.8" y="2362.0" width="14.7" height="29.2" fill="#6599be"/>
<text x="1054.0" y="2353.1" font-size="12.2" fill="#1a63b5" letter-spacing="1.22">Катар</text>
<text x="1071.5" y="2386.4" font-size="27.6" fill="#1a63b5" font-weight="bold" textLength="49.9" lengthAdjust="spacingAndGlyphs">+4,2</text>
<g transform="translate(969.00,2339.70) scale(0.9567,0.9583)"><g clip-path="url(#cr)"><use href="#f-qa" transform="translate(30,30) scale(1.1) translate(-30,-30)"/></g><rect x="0.600" y="0.600" width="58.800" height="58.800" rx="12.500" fill="none" stroke="#4f8fc6" stroke-width="1.900"/></g>
<rect x="1053.8" y="2420.7" width="14.0" height="29.2" fill="#6599be"/>
<text x="1058.0" y="2412.0" font-size="12.2" fill="#1a63b5" letter-spacing="1.22">Кот-д’Івуар</text>
<text x="1070.8" y="2445.1" font-size="27.6" fill="#1a63b5" font-weight="bold" textLength="49.9" lengthAdjust="spacingAndGlyphs">+4,0</text>
<g transform="translate(969.00,2402.40) scale(0.9567,0.8800)"><g clip-path="url(#cr)"><use href="#f-ci" transform="translate(30,30) scale(1.1) translate(-30,-30)"/></g><rect x="0.600" y="0.600" width="58.800" height="58.800" rx="12.500" fill="none" stroke="#4f8fc6" stroke-width="1.900"/></g>
<text x="874.8" y="1583.0" font-size="14.5" fill="#1a63b5" font-weight="bold" textLength="78.5" lengthAdjust="spacing">(млн дол.)</text>
<text x="195.5" y="2017.3" font-size="26.5" fill="#682c96" font-weight="bold" letter-spacing="0.32" word-spacing="4.5" id="st1">ТОП-15 країн-партнерів, до</text>
<text x="195.5" y="2047.0" font-size="26.5" fill="#682c96" font-weight="bold" letter-spacing="0.32" word-spacing="4.5" id="st2">яких найбільше скоротилися</text>
<text x="195.5" y="2076.8" font-size="26.5" fill="#682c96" font-weight="bold" letter-spacing="0.32" word-spacing="4.5" id="st3">обсяги експорту товарів</text>
<text x="1647.5" y="2004.5" font-size="26.5" fill="#682c96" font-weight="bold" text-anchor="end" letter-spacing="0.32" word-spacing="4.5" id="st4">ТОП-15 країн-партнерів, до</text>
<text x="1647.5" y="2034.3" font-size="26.5" fill="#682c96" font-weight="bold" text-anchor="end" letter-spacing="0.32" word-spacing="4.5" id="st5">яких найбільше зросли</text>
<text x="1647.5" y="2064.0" font-size="26.5" fill="#682c96" font-weight="bold" text-anchor="end" letter-spacing="0.32" word-spacing="4.5" id="st6">обсяги експорту товарів</text>
<g transform="translate(60,1960) scale(0.11577)" fill="#cb9a36"><rect x="203" y="260" width="57" height="845"/><rect x="203" y="1050" width="847" height="55"/><polygon points="362,370 465,455 465,1000 362,1000"/><polygon points="518,500 628,590 628,1000 518,1000"/><polygon points="678,762 785,778 785,1000 678,1000"/><polygon points="838,788 942,805 942,1000 838,1000"/><polygon points="395,258 850,622 815,668 362,298"/><polygon points="885,558 960,752 750,720"/></g>
<g transform="translate(1600,1960) scale(0.11577)" fill="#6599be"><rect x="1272" y="205" width="58" height="893"/><rect x="432" y="1045" width="898" height="53"/><polygon points="545,370 605,515 660,465 660,985 545,985"/><polygon points="690,450 828,545 828,985 690,985"/><polygon points="880,590 995,680 995,985 880,985"/><polygon points="1048,725 1165,805 1165,985 1048,985"/><polygon points="728,275 1178,688 1145,725 688,332"/><polygon points="548,205 768,238 625,412"/></g>
<path d="M499,2524 Q590,2491 641,2467.2 L1788,2467.2 L1788,2524 Z" fill="#3dbdee"/>
<path d="M907,2524 Q1010,2505 1068,2467.2 L1683,2467.2 Q1630,2492 1550,2524 Z" fill="url(#gyb)"/>
<path d="M1601.8,2368 Q1655,2410 1683,2467 L1520,2468 Q1511,2460 1511.3,2440 Z" fill="url(#gyb2)"/>
<path d="M1755.900,2096.200 L1694.200,2293 L1601.800,2370 Q1530,2425 1511.300,2446 L1511.300,2285 Q1511.300,2262 1557.500,2235.800 Z" fill="url(#grib2)"/>
<text x="1778.0" y="2484.5" font-size="15" fill="#3f3a6a" font-style="italic" text-anchor="end" textLength="495.0" lengthAdjust="spacing">Підготовлено за підтримки Програми лідерства, сприяння експорту,</text>
<text x="1778.0" y="2499.5" font-size="15" fill="#3f3a6a" font-style="italic" text-anchor="end" textLength="450.0" lengthAdjust="spacing">залучення інвестицій та розвитку Western NIS Enterprise Fund.</text>
<text x="1778.0" y="2515.0" font-size="15" fill="#3f3a6a" font-style="italic" text-anchor="end" textLength="104.0" lengthAdjust="spacing">www.wnisef.org</text>
</svg>
</div></body></html>
